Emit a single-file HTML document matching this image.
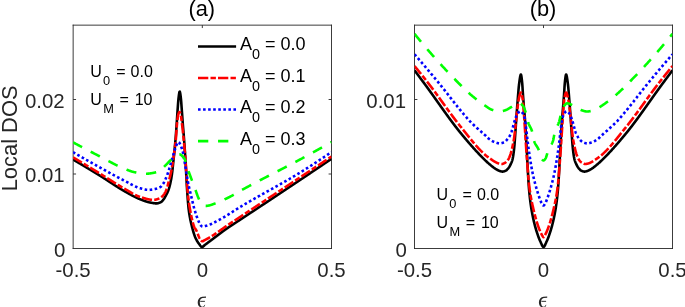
<!DOCTYPE html>
<html><head><meta charset="utf-8"><title>Local DOS</title>
<style>html,body{margin:0;padding:0;background:#fff;}body{width:685px;height:307px;overflow:hidden;position:relative;font-family:"Liberation Sans",sans-serif;}</style>
</head><body>
<svg width="685" height="307" viewBox="0 0 685 307" style="position:absolute;left:0;top:0;will-change:transform;font-family:'Liberation Sans',sans-serif">
<rect width="685" height="307" fill="#fff"/>
<defs><clipPath id="ca"><rect x="73.15" y="25.15" width="258.35" height="223.35"/></clipPath><clipPath id="cb"><rect x="414.5" y="25.15" width="258.0" height="223.35"/></clipPath></defs>
<path d="M73.15,24.7 V248.95 M331.5,24.7 V248.95 M72.7,25.15 H331.95 M72.7,248.5 H331.95" stroke="#262626" stroke-width="0.9" fill="none"/>
<path d="M202.325,248.5 v-2.9 M202.325,25.15 v2.9" stroke="#262626" stroke-width="0.9" fill="none"/>
<path d="M73.15,99.5 h2.9 M331.5,99.5 h-2.9" stroke="#262626" stroke-width="0.9" fill="none"/>
<path d="M73.15,174.0 h2.9 M331.5,174.0 h-2.9" stroke="#262626" stroke-width="0.9" fill="none"/>

<path d="M414.5,24.7 V248.95 M672.5,24.7 V248.95 M414.05,25.15 H672.95 M414.05,248.5 H672.95" stroke="#262626" stroke-width="0.9" fill="none"/>
<path d="M543.5,248.5 v-2.9 M543.5,25.15 v2.9" stroke="#262626" stroke-width="0.9" fill="none"/>
<path d="M414.5,99.5 h2.9 M672.5,99.5 h-2.9" stroke="#262626" stroke-width="0.9" fill="none"/>

<g clip-path="url(#ca)" fill="none" stroke-width="2.6" stroke-linejoin="round"><path d="M73.00,159.50 L73.25,159.65 L73.50,159.79 L73.75,159.94 L74.00,160.08 L74.25,160.23 L74.50,160.38 L74.75,160.52 L75.00,160.67 L75.25,160.82 L75.50,160.96 L75.75,161.11 L76.00,161.26 L76.25,161.40 L76.50,161.55 L76.75,161.70 L77.00,161.84 L77.25,161.99 L77.50,162.14 L77.75,162.29 L78.00,162.43 L78.25,162.58 L78.50,162.73 L78.75,162.88 L79.00,163.02 L79.25,163.17 L79.50,163.32 L79.75,163.47 L80.00,163.61 L80.25,163.76 L80.50,163.91 L80.75,164.06 L81.00,164.21 L81.25,164.36 L81.50,164.50 L81.75,164.65 L82.00,164.80 L82.25,164.95 L82.50,165.10 L82.75,165.25 L83.00,165.40 L83.25,165.55 L83.50,165.70 L83.75,165.84 L84.00,165.99 L84.25,166.14 L84.50,166.29 L84.75,166.44 L85.00,166.59 L85.25,166.74 L85.50,166.89 L85.75,167.04 L86.00,167.19 L86.25,167.34 L86.50,167.49 L86.75,167.64 L87.00,167.79 L87.25,167.94 L87.50,168.09 L87.75,168.24 L88.00,168.39 L88.25,168.54 L88.50,168.69 L88.75,168.84 L89.00,168.99 L89.25,169.15 L89.50,169.30 L89.75,169.45 L90.00,169.60 L90.25,169.75 L90.50,169.90 L90.75,170.05 L91.00,170.20 L91.25,170.36 L91.50,170.51 L91.75,170.66 L92.00,170.81 L92.25,170.96 L92.50,171.11 L92.75,171.27 L93.00,171.42 L93.25,171.57 L93.50,171.72 L93.75,171.87 L94.00,172.03 L94.25,172.18 L94.50,172.33 L94.75,172.48 L95.00,172.64 L95.25,172.79 L95.50,172.94 L95.75,173.09 L96.00,173.25 L96.25,173.40 L96.50,173.55 L96.75,173.70 L97.00,173.86 L97.25,174.01 L97.50,174.16 L97.75,174.32 L98.00,174.47 L98.25,174.62 L98.50,174.78 L98.75,174.93 L99.00,175.08 L99.25,175.24 L99.50,175.39 L99.75,175.55 L100.00,175.70 L100.25,175.85 L100.50,176.01 L100.75,176.16 L101.00,176.32 L101.25,176.48 L101.50,176.63 L101.75,176.79 L102.00,176.95 L102.25,177.10 L102.50,177.26 L102.75,177.42 L103.00,177.58 L103.25,177.74 L103.50,177.90 L103.75,178.06 L104.00,178.22 L104.25,178.38 L104.50,178.54 L104.75,178.70 L105.00,178.86 L105.25,179.03 L105.50,179.19 L105.75,179.35 L106.00,179.51 L106.25,179.68 L106.50,179.84 L106.75,180.00 L107.00,180.16 L107.25,180.33 L107.50,180.49 L107.75,180.65 L108.00,180.82 L108.25,180.98 L108.50,181.15 L108.75,181.31 L109.00,181.47 L109.25,181.64 L109.50,181.80 L109.75,181.97 L110.00,182.13 L110.25,182.29 L110.50,182.46 L110.75,182.62 L111.00,182.79 L111.25,182.95 L111.50,183.11 L111.75,183.28 L112.00,183.44 L112.25,183.61 L112.50,183.77 L112.75,183.93 L113.00,184.10 L113.25,184.26 L113.50,184.42 L113.75,184.58 L114.00,184.75 L114.25,184.91 L114.50,185.07 L114.75,185.23 L115.00,185.39 L115.25,185.56 L115.50,185.72 L115.75,185.88 L116.00,186.04 L116.25,186.20 L116.50,186.36 L116.75,186.52 L117.00,186.68 L117.25,186.83 L117.50,186.99 L117.75,187.15 L118.00,187.31 L118.25,187.47 L118.50,187.62 L118.75,187.78 L119.00,187.93 L119.25,188.09 L119.50,188.24 L119.75,188.40 L120.00,188.55 L120.25,188.71 L120.50,188.86 L120.75,189.01 L121.00,189.16 L121.25,189.31 L121.50,189.46 L121.75,189.61 L122.00,189.76 L122.25,189.91 L122.50,190.06 L122.75,190.21 L123.00,190.35 L123.25,190.50 L123.50,190.64 L123.75,190.79 L124.00,190.93 L124.25,191.08 L124.50,191.22 L124.75,191.36 L125.00,191.50 L125.25,191.64 L125.50,191.78 L125.75,191.92 L126.00,192.06 L126.25,192.20 L126.50,192.34 L126.75,192.49 L127.00,192.63 L127.25,192.77 L127.50,192.91 L127.75,193.05 L128.00,193.19 L128.25,193.33 L128.50,193.47 L128.75,193.61 L129.00,193.75 L129.25,193.89 L129.50,194.03 L129.75,194.17 L130.00,194.30 L130.25,194.44 L130.50,194.58 L130.75,194.72 L131.00,194.85 L131.25,194.99 L131.50,195.12 L131.75,195.26 L132.00,195.39 L132.25,195.53 L132.50,195.66 L132.75,195.79 L133.00,195.92 L133.25,196.06 L133.50,196.19 L133.75,196.31 L134.00,196.44 L134.25,196.57 L134.50,196.70 L134.75,196.82 L135.00,196.95 L135.25,197.07 L135.50,197.19 L135.75,197.32 L136.00,197.44 L136.25,197.56 L136.50,197.67 L136.75,197.79 L137.00,197.91 L137.25,198.02 L137.50,198.14 L137.75,198.25 L138.00,198.36 L138.25,198.47 L138.50,198.58 L138.75,198.69 L139.00,198.79 L139.25,198.90 L139.50,199.00 L139.75,199.10 L140.00,199.20 L140.25,199.30 L140.50,199.40 L140.75,199.50 L141.00,199.60 L141.25,199.69 L141.50,199.79 L141.75,199.89 L142.00,199.99 L142.25,200.09 L142.50,200.18 L142.75,200.28 L143.00,200.38 L143.25,200.47 L143.50,200.56 L143.75,200.66 L144.00,200.75 L144.25,200.84 L144.50,200.93 L144.75,201.02 L145.00,201.11 L145.25,201.19 L145.50,201.28 L145.75,201.36 L146.00,201.45 L146.25,201.53 L146.50,201.61 L146.75,201.68 L147.00,201.76 L147.25,201.83 L147.50,201.90 L147.75,201.97 L148.00,202.04 L148.25,202.11 L148.50,202.17 L148.75,202.23 L149.00,202.29 L149.25,202.35 L149.50,202.40 L149.75,202.45 L150.00,202.50 L150.25,202.55 L150.50,202.60 L150.75,202.64 L151.00,202.69 L151.25,202.74 L151.50,202.79 L151.75,202.84 L152.00,202.88 L152.25,202.93 L152.50,202.98 L152.75,203.02 L153.00,203.06 L153.25,203.10 L153.50,203.14 L153.75,203.18 L154.00,203.22 L154.25,203.25 L154.50,203.28 L154.75,203.30 L155.00,203.33 L155.25,203.35 L155.50,203.37 L155.75,203.38 L156.00,203.39 L156.25,203.40 L156.50,203.40 L156.75,203.39 L157.00,203.38 L157.25,203.35 L157.50,203.31 L157.75,203.26 L158.00,203.20 L158.25,203.14 L158.50,203.06 L158.75,202.98 L159.00,202.89 L159.25,202.80 L159.50,202.70 L159.75,202.59 L160.00,202.48 L160.25,202.36 L160.50,202.25 L160.75,202.12 L161.00,202.00 L161.25,201.86 L161.50,201.68 L161.75,201.48 L162.00,201.25 L162.25,200.99 L162.50,200.72 L162.75,200.43 L163.00,200.12 L163.25,199.80 L163.50,199.47 L163.75,199.14 L164.00,198.80 L164.25,198.44 L164.50,198.06 L164.75,197.64 L165.00,197.20 L165.25,196.74 L165.50,196.26 L165.75,195.78 L166.00,195.29 L166.25,194.79 L166.50,194.30 L166.75,193.82 L167.00,193.33 L167.25,192.84 L167.50,192.32 L167.75,191.79 L168.00,191.21 L168.25,190.59 L168.50,189.93 L168.75,189.20 L169.00,188.41 L169.25,187.57 L169.50,186.67 L169.75,185.72 L170.00,184.72 L170.25,183.66 L170.50,182.55 L170.75,181.35 L171.00,180.05 L171.25,178.65 L171.50,177.14 L171.75,175.52 L172.00,173.78 L172.25,171.80 L172.50,169.62 L172.75,167.28 L173.00,164.87 L173.25,162.44 L173.50,160.05 L173.75,157.68 L174.00,155.30 L174.25,152.90 L174.50,150.44 L174.75,147.93 L175.00,145.32 L175.25,142.61 L175.50,139.77 L175.75,136.76 L176.00,133.47 L176.25,130.00 L176.50,126.43 L176.75,122.80 L177.00,118.98 L177.25,115.12 L177.50,111.40 L177.75,107.90 L178.00,104.34 L178.25,101.06 L178.50,98.42 L178.75,96.40 L179.00,94.47 L179.25,92.86 L179.50,91.79 L179.75,91.52 L180.00,92.14 L180.25,93.45 L180.50,95.22 L180.75,97.20 L181.00,99.38 L181.25,102.37 L181.50,105.84 L181.75,109.34 L182.00,112.68 L182.25,116.13 L182.50,119.60 L182.75,123.02 L183.00,126.28 L183.25,129.35 L183.50,132.34 L183.75,135.38 L184.00,138.60 L184.25,142.00 L184.50,145.52 L184.75,149.15 L185.00,152.91 L185.25,156.79 L185.50,160.82 L185.75,165.23 L186.00,169.97 L186.25,174.86 L186.50,179.70 L186.75,184.31 L187.00,188.49 L187.25,192.18 L187.50,195.74 L187.75,199.16 L188.00,202.36 L188.25,205.26 L188.50,207.79 L188.75,209.89 L189.00,211.73 L189.25,213.44 L189.50,215.03 L189.75,216.51 L190.00,217.89 L190.25,219.19 L190.50,220.41 L190.75,221.57 L191.00,222.67 L191.25,223.74 L191.50,224.79 L191.75,225.81 L192.00,226.82 L192.25,227.80 L192.50,228.76 L192.75,229.69 L193.00,230.59 L193.25,231.47 L193.50,232.31 L193.75,233.13 L194.00,233.92 L194.25,234.67 L194.50,235.39 L194.75,236.07 L195.00,236.72 L195.25,237.33 L195.50,237.90 L195.75,238.44 L196.00,238.96 L196.25,239.46 L196.50,239.93 L196.75,240.39 L197.00,240.83 L197.25,241.25 L197.50,241.65 L197.75,242.04 L198.00,242.42 L198.25,242.78 L198.50,243.13 L198.75,243.47 L199.00,243.80 L199.25,244.14 L199.50,244.49 L199.75,244.85 L200.00,245.21 L200.25,245.56 L200.50,245.89 L200.75,246.19 L201.00,246.46 L201.25,246.68 L201.50,246.85 L201.75,246.96 L202.00,247.00 L202.25,246.97 L202.50,246.89 L202.75,246.76 L203.00,246.59 L203.25,246.40 L203.50,246.18 L203.75,245.94 L204.00,245.70 L204.25,245.46 L204.50,245.22 L204.75,245.00 L205.00,244.80 L205.25,244.62 L205.50,244.43 L205.75,244.24 L206.00,244.06 L206.25,243.87 L206.50,243.69 L206.75,243.50 L207.00,243.32 L207.25,243.13 L207.50,242.94 L207.75,242.76 L208.00,242.57 L208.25,242.38 L208.50,242.20 L208.75,242.01 L209.00,241.82 L209.25,241.64 L209.50,241.45 L209.75,241.26 L210.00,241.08 L210.25,240.89 L210.50,240.70 L210.75,240.51 L211.00,240.33 L211.25,240.14 L211.50,239.95 L211.75,239.76 L212.00,239.58 L212.25,239.39 L212.50,239.20 L212.75,239.01 L213.00,238.83 L213.25,238.64 L213.50,238.45 L213.75,238.26 L214.00,238.07 L214.25,237.89 L214.50,237.70 L214.75,237.51 L215.00,237.32 L215.25,237.13 L215.50,236.94 L215.75,236.75 L216.00,236.56 L216.25,236.37 L216.50,236.18 L216.75,235.99 L217.00,235.80 L217.25,235.61 L217.50,235.41 L217.75,235.22 L218.00,235.03 L218.25,234.84 L218.50,234.65 L218.75,234.46 L219.00,234.27 L219.25,234.07 L219.50,233.88 L219.75,233.69 L220.00,233.50 L220.25,233.31 L220.50,233.12 L220.75,232.93 L221.00,232.74 L221.25,232.55 L221.50,232.37 L221.75,232.18 L222.00,231.99 L222.25,231.80 L222.50,231.62 L222.75,231.43 L223.00,231.25 L223.25,231.06 L223.50,230.88 L223.75,230.70 L224.00,230.52 L224.25,230.34 L224.50,230.16 L224.75,229.98 L225.00,229.80 L225.25,229.62 L225.50,229.45 L225.75,229.27 L226.00,229.10 L226.25,228.92 L226.50,228.75 L226.75,228.57 L227.00,228.40 L227.25,228.23 L227.50,228.06 L227.75,227.89 L228.00,227.72 L228.25,227.55 L228.50,227.38 L228.75,227.21 L229.00,227.04 L229.25,226.87 L229.50,226.70 L229.75,226.54 L230.00,226.37 L230.25,226.20 L230.50,226.04 L230.75,225.87 L231.00,225.70 L231.25,225.54 L231.50,225.37 L231.75,225.21 L232.00,225.04 L232.25,224.88 L232.50,224.71 L232.75,224.55 L233.00,224.39 L233.25,224.22 L233.50,224.06 L233.75,223.90 L234.00,223.73 L234.25,223.57 L234.50,223.41 L234.75,223.24 L235.00,223.08 L235.25,222.92 L235.50,222.75 L235.75,222.59 L236.00,222.43 L236.25,222.26 L236.50,222.10 L236.75,221.94 L237.00,221.77 L237.25,221.61 L237.50,221.45 L237.75,221.28 L238.00,221.12 L238.25,220.95 L238.50,220.79 L238.75,220.63 L239.00,220.46 L239.25,220.30 L239.50,220.13 L239.75,219.97 L240.00,219.80 L240.25,219.63 L240.50,219.47 L240.75,219.30 L241.00,219.14 L241.25,218.97 L241.50,218.81 L241.75,218.64 L242.00,218.47 L242.25,218.31 L242.50,218.14 L242.75,217.98 L243.00,217.81 L243.25,217.65 L243.50,217.48 L243.75,217.32 L244.00,217.15 L244.25,216.99 L244.50,216.82 L244.75,216.66 L245.00,216.49 L245.25,216.33 L245.50,216.16 L245.75,216.00 L246.00,215.83 L246.25,215.67 L246.50,215.50 L246.75,215.34 L247.00,215.17 L247.25,215.01 L247.50,214.84 L247.75,214.68 L248.00,214.51 L248.25,214.35 L248.50,214.18 L248.75,214.02 L249.00,213.85 L249.25,213.69 L249.50,213.52 L249.75,213.36 L250.00,213.19 L250.25,213.03 L250.50,212.86 L250.75,212.70 L251.00,212.53 L251.25,212.37 L251.50,212.21 L251.75,212.04 L252.00,211.88 L252.25,211.71 L252.50,211.55 L252.75,211.38 L253.00,211.22 L253.25,211.05 L253.50,210.89 L253.75,210.72 L254.00,210.56 L254.25,210.39 L254.50,210.23 L254.75,210.07 L255.00,209.90 L255.25,209.74 L255.50,209.57 L255.75,209.41 L256.00,209.24 L256.25,209.08 L256.50,208.91 L256.75,208.75 L257.00,208.58 L257.25,208.42 L257.50,208.25 L257.75,208.09 L258.00,207.92 L258.25,207.76 L258.50,207.60 L258.75,207.43 L259.00,207.27 L259.25,207.10 L259.50,206.94 L259.75,206.77 L260.00,206.61 L260.25,206.44 L260.50,206.28 L260.75,206.11 L261.00,205.95 L261.25,205.78 L261.50,205.62 L261.75,205.45 L262.00,205.29 L262.25,205.12 L262.50,204.95 L262.75,204.79 L263.00,204.62 L263.25,204.46 L263.50,204.29 L263.75,204.13 L264.00,203.96 L264.25,203.80 L264.50,203.63 L264.75,203.47 L265.00,203.30 L265.25,203.13 L265.50,202.97 L265.75,202.80 L266.00,202.64 L266.25,202.47 L266.50,202.31 L266.75,202.14 L267.00,201.97 L267.25,201.81 L267.50,201.64 L267.75,201.48 L268.00,201.31 L268.25,201.15 L268.50,200.98 L268.75,200.81 L269.00,200.65 L269.25,200.48 L269.50,200.32 L269.75,200.15 L270.00,199.98 L270.25,199.82 L270.50,199.65 L270.75,199.49 L271.00,199.32 L271.25,199.16 L271.50,198.99 L271.75,198.82 L272.00,198.66 L272.25,198.49 L272.50,198.33 L272.75,198.16 L273.00,197.99 L273.25,197.83 L273.50,197.66 L273.75,197.50 L274.00,197.33 L274.25,197.16 L274.50,197.00 L274.75,196.83 L275.00,196.67 L275.25,196.50 L275.50,196.33 L275.75,196.17 L276.00,196.00 L276.25,195.84 L276.50,195.67 L276.75,195.50 L277.00,195.34 L277.25,195.17 L277.50,195.00 L277.75,194.84 L278.00,194.67 L278.25,194.51 L278.50,194.34 L278.75,194.17 L279.00,194.01 L279.25,193.84 L279.50,193.68 L279.75,193.51 L280.00,193.34 L280.25,193.18 L280.50,193.01 L280.75,192.84 L281.00,192.68 L281.25,192.51 L281.50,192.34 L281.75,192.18 L282.00,192.01 L282.25,191.85 L282.50,191.68 L282.75,191.51 L283.00,191.35 L283.25,191.18 L283.50,191.01 L283.75,190.85 L284.00,190.68 L284.25,190.51 L284.50,190.35 L284.75,190.18 L285.00,190.01 L285.25,189.85 L285.50,189.68 L285.75,189.52 L286.00,189.35 L286.25,189.18 L286.50,189.02 L286.75,188.85 L287.00,188.68 L287.25,188.52 L287.50,188.35 L287.75,188.18 L288.00,188.02 L288.25,187.85 L288.50,187.68 L288.75,187.52 L289.00,187.35 L289.25,187.18 L289.50,187.02 L289.75,186.85 L290.00,186.68 L290.25,186.52 L290.50,186.35 L290.75,186.18 L291.00,186.01 L291.25,185.85 L291.50,185.68 L291.75,185.51 L292.00,185.35 L292.25,185.18 L292.50,185.01 L292.75,184.85 L293.00,184.68 L293.25,184.51 L293.50,184.35 L293.75,184.18 L294.00,184.01 L294.25,183.85 L294.50,183.68 L294.75,183.51 L295.00,183.34 L295.25,183.18 L295.50,183.01 L295.75,182.84 L296.00,182.68 L296.25,182.51 L296.50,182.34 L296.75,182.17 L297.00,182.01 L297.25,181.84 L297.50,181.67 L297.75,181.51 L298.00,181.34 L298.25,181.17 L298.50,181.00 L298.75,180.84 L299.00,180.67 L299.25,180.50 L299.50,180.33 L299.75,180.17 L300.00,180.00 L300.25,179.83 L300.50,179.67 L300.75,179.50 L301.00,179.33 L301.25,179.16 L301.50,179.00 L301.75,178.83 L302.00,178.66 L302.25,178.49 L302.50,178.33 L302.75,178.16 L303.00,177.99 L303.25,177.82 L303.50,177.66 L303.75,177.49 L304.00,177.32 L304.25,177.15 L304.50,176.99 L304.75,176.82 L305.00,176.65 L305.25,176.48 L305.50,176.31 L305.75,176.15 L306.00,175.98 L306.25,175.81 L306.50,175.64 L306.75,175.48 L307.00,175.31 L307.25,175.14 L307.50,174.97 L307.75,174.80 L308.00,174.64 L308.25,174.47 L308.50,174.30 L308.75,174.13 L309.00,173.97 L309.25,173.80 L309.50,173.63 L309.75,173.46 L310.00,173.29 L310.25,173.13 L310.50,172.96 L310.75,172.79 L311.00,172.62 L311.25,172.45 L311.50,172.29 L311.75,172.12 L312.00,171.95 L312.25,171.78 L312.50,171.61 L312.75,171.45 L313.00,171.28 L313.25,171.11 L313.50,170.94 L313.75,170.77 L314.00,170.61 L314.25,170.44 L314.50,170.27 L314.75,170.10 L315.00,169.93 L315.25,169.76 L315.50,169.60 L315.75,169.43 L316.00,169.26 L316.25,169.09 L316.50,168.92 L316.75,168.75 L317.00,168.59 L317.25,168.42 L317.50,168.25 L317.75,168.08 L318.00,167.91 L318.25,167.74 L318.50,167.58 L318.75,167.41 L319.00,167.24 L319.25,167.07 L319.50,166.90 L319.75,166.73 L320.00,166.57 L320.25,166.40 L320.50,166.23 L320.75,166.06 L321.00,165.89 L321.25,165.72 L321.50,165.55 L321.75,165.39 L322.00,165.22 L322.25,165.05 L322.50,164.88 L322.75,164.71 L323.00,164.54 L323.25,164.37 L323.50,164.20 L323.75,164.04 L324.00,163.87 L324.25,163.70 L324.50,163.53 L324.75,163.36 L325.00,163.19 L325.25,163.02 L325.50,162.86 L325.75,162.69 L326.00,162.52 L326.25,162.35 L326.50,162.18 L326.75,162.01 L327.00,161.84 L327.25,161.67 L327.50,161.50 L327.75,161.34 L328.00,161.17 L328.25,161.00 L328.50,160.83 L328.75,160.66 L329.00,160.49 L329.25,160.32 L329.50,160.15 L329.75,159.98 L330.00,159.81 L330.25,159.65 L330.50,159.48 L330.75,159.31 L331.00,159.14 L331.25,158.97 L331.50,158.80" stroke="#000"/><path d="M73.00,157.30 L73.25,157.45 L73.50,157.60 L73.75,157.75 L74.00,157.90 L74.25,158.05 L74.50,158.20 L74.75,158.35 L75.00,158.50 L75.25,158.65 L75.50,158.79 L75.75,158.94 L76.00,159.09 L76.25,159.24 L76.50,159.39 L76.75,159.54 L77.00,159.69 L77.25,159.84 L77.50,159.99 L77.75,160.14 L78.00,160.29 L78.25,160.44 L78.50,160.59 L78.75,160.74 L79.00,160.89 L79.25,161.04 L79.50,161.19 L79.75,161.34 L80.00,161.49 L80.25,161.64 L80.50,161.79 L80.75,161.94 L81.00,162.09 L81.25,162.24 L81.50,162.39 L81.75,162.55 L82.00,162.70 L82.25,162.85 L82.50,163.00 L82.75,163.15 L83.00,163.30 L83.25,163.45 L83.50,163.60 L83.75,163.75 L84.00,163.90 L84.25,164.05 L84.50,164.20 L84.75,164.35 L85.00,164.50 L85.25,164.65 L85.50,164.80 L85.75,164.95 L86.00,165.11 L86.25,165.26 L86.50,165.41 L86.75,165.56 L87.00,165.71 L87.25,165.86 L87.50,166.01 L87.75,166.16 L88.00,166.31 L88.25,166.46 L88.50,166.62 L88.75,166.77 L89.00,166.92 L89.25,167.07 L89.50,167.22 L89.75,167.37 L90.00,167.52 L90.25,167.67 L90.50,167.83 L90.75,167.98 L91.00,168.13 L91.25,168.28 L91.50,168.43 L91.75,168.58 L92.00,168.74 L92.25,168.89 L92.50,169.04 L92.75,169.19 L93.00,169.34 L93.25,169.49 L93.50,169.65 L93.75,169.80 L94.00,169.95 L94.25,170.10 L94.50,170.25 L94.75,170.40 L95.00,170.56 L95.25,170.71 L95.50,170.86 L95.75,171.01 L96.00,171.16 L96.25,171.32 L96.50,171.47 L96.75,171.62 L97.00,171.77 L97.25,171.92 L97.50,172.08 L97.75,172.23 L98.00,172.38 L98.25,172.53 L98.50,172.69 L98.75,172.84 L99.00,172.99 L99.25,173.14 L99.50,173.30 L99.75,173.45 L100.00,173.60 L100.25,173.75 L100.50,173.91 L100.75,174.06 L101.00,174.21 L101.25,174.37 L101.50,174.52 L101.75,174.67 L102.00,174.83 L102.25,174.98 L102.50,175.14 L102.75,175.29 L103.00,175.45 L103.25,175.61 L103.50,175.76 L103.75,175.92 L104.00,176.07 L104.25,176.23 L104.50,176.39 L104.75,176.54 L105.00,176.70 L105.25,176.86 L105.50,177.02 L105.75,177.17 L106.00,177.33 L106.25,177.49 L106.50,177.65 L106.75,177.80 L107.00,177.96 L107.25,178.12 L107.50,178.28 L107.75,178.44 L108.00,178.60 L108.25,178.75 L108.50,178.91 L108.75,179.07 L109.00,179.23 L109.25,179.39 L109.50,179.55 L109.75,179.70 L110.00,179.86 L110.25,180.02 L110.50,180.18 L110.75,180.34 L111.00,180.50 L111.25,180.65 L111.50,180.81 L111.75,180.97 L112.00,181.13 L112.25,181.29 L112.50,181.44 L112.75,181.60 L113.00,181.76 L113.25,181.92 L113.50,182.07 L113.75,182.23 L114.00,182.39 L114.25,182.54 L114.50,182.70 L114.75,182.86 L115.00,183.01 L115.25,183.17 L115.50,183.32 L115.75,183.48 L116.00,183.63 L116.25,183.79 L116.50,183.94 L116.75,184.10 L117.00,184.25 L117.25,184.41 L117.50,184.56 L117.75,184.71 L118.00,184.87 L118.25,185.02 L118.50,185.17 L118.75,185.33 L119.00,185.48 L119.25,185.63 L119.50,185.78 L119.75,185.93 L120.00,186.08 L120.25,186.23 L120.50,186.38 L120.75,186.53 L121.00,186.68 L121.25,186.83 L121.50,186.98 L121.75,187.12 L122.00,187.27 L122.25,187.42 L122.50,187.56 L122.75,187.71 L123.00,187.85 L123.25,188.00 L123.50,188.14 L123.75,188.29 L124.00,188.43 L124.25,188.57 L124.50,188.72 L124.75,188.86 L125.00,189.00 L125.25,189.14 L125.50,189.28 L125.75,189.43 L126.00,189.57 L126.25,189.72 L126.50,189.86 L126.75,190.01 L127.00,190.16 L127.25,190.31 L127.50,190.46 L127.75,190.61 L128.00,190.76 L128.25,190.91 L128.50,191.06 L128.75,191.21 L129.00,191.36 L129.25,191.51 L129.50,191.66 L129.75,191.81 L130.00,191.96 L130.25,192.11 L130.50,192.26 L130.75,192.40 L131.00,192.55 L131.25,192.70 L131.50,192.85 L131.75,192.99 L132.00,193.14 L132.25,193.28 L132.50,193.43 L132.75,193.57 L133.00,193.71 L133.25,193.85 L133.50,193.99 L133.75,194.13 L134.00,194.26 L134.25,194.40 L134.50,194.53 L134.75,194.66 L135.00,194.79 L135.25,194.92 L135.50,195.04 L135.75,195.17 L136.00,195.29 L136.25,195.41 L136.50,195.53 L136.75,195.64 L137.00,195.75 L137.25,195.86 L137.50,195.97 L137.75,196.08 L138.00,196.18 L138.25,196.28 L138.50,196.38 L138.75,196.47 L139.00,196.56 L139.25,196.65 L139.50,196.74 L139.75,196.82 L140.00,196.90 L140.25,196.98 L140.50,197.06 L140.75,197.13 L141.00,197.21 L141.25,197.29 L141.50,197.37 L141.75,197.45 L142.00,197.53 L142.25,197.61 L142.50,197.69 L142.75,197.76 L143.00,197.84 L143.25,197.92 L143.50,198.00 L143.75,198.07 L144.00,198.15 L144.25,198.22 L144.50,198.30 L144.75,198.37 L145.00,198.44 L145.25,198.52 L145.50,198.59 L145.75,198.66 L146.00,198.73 L146.25,198.79 L146.50,198.86 L146.75,198.92 L147.00,198.99 L147.25,199.05 L147.50,199.11 L147.75,199.17 L148.00,199.22 L148.25,199.28 L148.50,199.33 L148.75,199.38 L149.00,199.43 L149.25,199.48 L149.50,199.52 L149.75,199.57 L150.00,199.61 L150.25,199.65 L150.50,199.68 L150.75,199.72 L151.00,199.75 L151.25,199.77 L151.50,199.80 L151.75,199.82 L152.00,199.84 L152.25,199.86 L152.50,199.87 L152.75,199.89 L153.00,199.89 L153.25,199.90 L153.50,199.90 L153.75,199.90 L154.00,199.88 L154.25,199.87 L154.50,199.84 L154.75,199.81 L155.00,199.77 L155.25,199.72 L155.50,199.67 L155.75,199.61 L156.00,199.55 L156.25,199.48 L156.50,199.41 L156.75,199.34 L157.00,199.26 L157.25,199.17 L157.50,199.09 L157.75,199.00 L158.00,198.90 L158.25,198.81 L158.50,198.71 L158.75,198.61 L159.00,198.51 L159.25,198.40 L159.50,198.30 L159.75,198.19 L160.00,198.06 L160.25,197.92 L160.50,197.77 L160.75,197.60 L161.00,197.42 L161.25,197.22 L161.50,197.02 L161.75,196.80 L162.00,196.57 L162.25,196.33 L162.50,196.09 L162.75,195.83 L163.00,195.56 L163.25,195.28 L163.50,195.00 L163.75,194.70 L164.00,194.36 L164.25,194.00 L164.50,193.61 L164.75,193.19 L165.00,192.75 L165.25,192.28 L165.50,191.78 L165.75,191.25 L166.00,190.70 L166.25,190.12 L166.50,189.49 L166.75,188.78 L167.00,188.00 L167.25,187.15 L167.50,186.25 L167.75,185.31 L168.00,184.34 L168.25,183.35 L168.50,182.36 L168.75,181.37 L169.00,180.40 L169.25,179.44 L169.50,178.49 L169.75,177.53 L170.00,176.56 L170.25,175.56 L170.50,174.54 L170.75,173.48 L171.00,172.38 L171.25,171.22 L171.50,170.00 L171.75,168.71 L172.00,167.34 L172.25,165.90 L172.50,164.39 L172.75,162.82 L173.00,161.20 L173.25,159.52 L173.50,157.81 L173.75,156.06 L174.00,154.29 L174.25,152.50 L174.50,150.67 L174.75,148.78 L175.00,146.81 L175.25,144.73 L175.50,142.51 L175.75,140.12 L176.00,137.48 L176.25,134.14 L176.50,130.43 L176.75,126.88 L177.00,124.00 L177.25,121.66 L177.50,119.45 L177.75,117.48 L178.00,115.85 L178.25,114.67 L178.50,113.87 L178.75,113.14 L179.00,112.55 L179.25,112.15 L179.50,112.00 L179.75,112.15 L180.00,112.55 L180.25,113.14 L180.50,113.87 L180.75,114.67 L181.00,115.93 L181.25,117.67 L181.50,119.72 L181.75,121.89 L182.00,124.00 L182.25,126.07 L182.50,128.22 L182.75,130.45 L183.00,132.76 L183.25,135.15 L183.50,137.60 L183.75,140.12 L184.00,142.71 L184.25,145.38 L184.50,148.12 L184.75,150.95 L185.00,153.87 L185.25,156.89 L185.50,160.00 L185.75,163.38 L186.00,167.10 L186.25,171.04 L186.50,175.08 L186.75,179.10 L187.00,182.98 L187.25,186.58 L187.50,189.79 L187.75,192.50 L188.00,194.92 L188.25,197.19 L188.50,199.32 L188.75,201.30 L189.00,203.14 L189.25,204.85 L189.50,206.43 L189.75,207.88 L190.00,209.28 L190.25,210.65 L190.50,211.98 L190.75,213.29 L191.00,214.56 L191.25,215.80 L191.50,217.00 L191.75,218.15 L192.00,219.26 L192.25,220.33 L192.50,221.35 L192.75,222.32 L193.00,223.24 L193.25,224.10 L193.50,224.90 L193.75,225.65 L194.00,226.33 L194.25,226.95 L194.50,227.50 L194.75,227.97 L195.00,228.36 L195.25,228.70 L195.50,229.04 L195.75,229.39 L196.00,229.80 L196.25,230.27 L196.50,230.80 L196.75,231.37 L197.00,231.97 L197.25,232.60 L197.50,233.24 L197.75,233.90 L198.00,234.55 L198.25,235.20 L198.50,235.84 L198.75,236.44 L199.00,237.02 L199.25,237.56 L199.50,238.04 L199.75,238.47 L200.00,238.84 L200.25,239.21 L200.50,239.59 L200.75,239.95 L201.00,240.30 L201.25,240.61 L201.50,240.88 L201.75,241.09 L202.00,241.24 L202.25,241.30 L202.50,241.28 L202.75,241.22 L203.00,241.11 L203.25,240.98 L203.50,240.83 L203.75,240.66 L204.00,240.50 L204.25,240.34 L204.50,240.20 L204.75,240.07 L205.00,239.94 L205.25,239.81 L205.50,239.69 L205.75,239.56 L206.00,239.43 L206.25,239.30 L206.50,239.17 L206.75,239.04 L207.00,238.90 L207.25,238.77 L207.50,238.64 L207.75,238.50 L208.00,238.36 L208.25,238.23 L208.50,238.09 L208.75,237.94 L209.00,237.80 L209.25,237.65 L209.50,237.51 L209.75,237.36 L210.00,237.21 L210.25,237.06 L210.50,236.90 L210.75,236.75 L211.00,236.59 L211.25,236.44 L211.50,236.28 L211.75,236.12 L212.00,235.96 L212.25,235.80 L212.50,235.64 L212.75,235.47 L213.00,235.31 L213.25,235.15 L213.50,234.98 L213.75,234.82 L214.00,234.65 L214.25,234.48 L214.50,234.32 L214.75,234.15 L215.00,233.98 L215.25,233.81 L215.50,233.64 L215.75,233.48 L216.00,233.31 L216.25,233.14 L216.50,232.97 L216.75,232.80 L217.00,232.63 L217.25,232.46 L217.50,232.29 L217.75,232.12 L218.00,231.95 L218.25,231.78 L218.50,231.60 L218.75,231.43 L219.00,231.25 L219.25,231.07 L219.50,230.90 L219.75,230.72 L220.00,230.54 L220.25,230.36 L220.50,230.19 L220.75,230.01 L221.00,229.83 L221.25,229.65 L221.50,229.47 L221.75,229.29 L222.00,229.11 L222.25,228.93 L222.50,228.75 L222.75,228.58 L223.00,228.40 L223.25,228.22 L223.50,228.05 L223.75,227.87 L224.00,227.69 L224.25,227.52 L224.50,227.35 L224.75,227.17 L225.00,227.00 L225.25,226.83 L225.50,226.66 L225.75,226.49 L226.00,226.32 L226.25,226.15 L226.50,225.98 L226.75,225.81 L227.00,225.64 L227.25,225.47 L227.50,225.30 L227.75,225.13 L228.00,224.96 L228.25,224.79 L228.50,224.62 L228.75,224.46 L229.00,224.29 L229.25,224.12 L229.50,223.95 L229.75,223.79 L230.00,223.62 L230.25,223.45 L230.50,223.29 L230.75,223.12 L231.00,222.95 L231.25,222.79 L231.50,222.62 L231.75,222.45 L232.00,222.29 L232.25,222.12 L232.50,221.96 L232.75,221.79 L233.00,221.63 L233.25,221.46 L233.50,221.30 L233.75,221.13 L234.00,220.96 L234.25,220.80 L234.50,220.63 L234.75,220.47 L235.00,220.30 L235.25,220.14 L235.50,219.97 L235.75,219.81 L236.00,219.64 L236.25,219.48 L236.50,219.31 L236.75,219.15 L237.00,218.98 L237.25,218.82 L237.50,218.65 L237.75,218.49 L238.00,218.32 L238.25,218.16 L238.50,217.99 L238.75,217.83 L239.00,217.66 L239.25,217.50 L239.50,217.33 L239.75,217.17 L240.00,217.00 L240.25,216.83 L240.50,216.67 L240.75,216.50 L241.00,216.34 L241.25,216.17 L241.50,216.01 L241.75,215.84 L242.00,215.67 L242.25,215.51 L242.50,215.34 L242.75,215.18 L243.00,215.01 L243.25,214.85 L243.50,214.68 L243.75,214.52 L244.00,214.35 L244.25,214.18 L244.50,214.02 L244.75,213.85 L245.00,213.69 L245.25,213.52 L245.50,213.36 L245.75,213.19 L246.00,213.03 L246.25,212.86 L246.50,212.70 L246.75,212.53 L247.00,212.37 L247.25,212.20 L247.50,212.04 L247.75,211.87 L248.00,211.71 L248.25,211.54 L248.50,211.38 L248.75,211.21 L249.00,211.05 L249.25,210.88 L249.50,210.72 L249.75,210.55 L250.00,210.39 L250.25,210.22 L250.50,210.06 L250.75,209.89 L251.00,209.73 L251.25,209.56 L251.50,209.40 L251.75,209.23 L252.00,209.07 L252.25,208.90 L252.50,208.74 L252.75,208.57 L253.00,208.41 L253.25,208.24 L253.50,208.08 L253.75,207.91 L254.00,207.75 L254.25,207.59 L254.50,207.42 L254.75,207.26 L255.00,207.09 L255.25,206.93 L255.50,206.76 L255.75,206.60 L256.00,206.43 L256.25,206.27 L256.50,206.10 L256.75,205.94 L257.00,205.77 L257.25,205.61 L257.50,205.44 L257.75,205.28 L258.00,205.11 L258.25,204.95 L258.50,204.79 L258.75,204.62 L259.00,204.46 L259.25,204.29 L259.50,204.13 L259.75,203.96 L260.00,203.80 L260.25,203.63 L260.50,203.47 L260.75,203.30 L261.00,203.14 L261.25,202.97 L261.50,202.81 L261.75,202.64 L262.00,202.48 L262.25,202.31 L262.50,202.15 L262.75,201.98 L263.00,201.82 L263.25,201.65 L263.50,201.49 L263.75,201.32 L264.00,201.16 L264.25,200.99 L264.50,200.83 L264.75,200.66 L265.00,200.50 L265.25,200.34 L265.50,200.17 L265.75,200.01 L266.00,199.84 L266.25,199.68 L266.50,199.51 L266.75,199.35 L267.00,199.18 L267.25,199.02 L267.50,198.85 L267.75,198.69 L268.00,198.52 L268.25,198.36 L268.50,198.19 L268.75,198.03 L269.00,197.86 L269.25,197.70 L269.50,197.53 L269.75,197.37 L270.00,197.20 L270.25,197.04 L270.50,196.87 L270.75,196.71 L271.00,196.54 L271.25,196.38 L271.50,196.21 L271.75,196.05 L272.00,195.88 L272.25,195.72 L272.50,195.55 L272.75,195.39 L273.00,195.22 L273.25,195.06 L273.50,194.89 L273.75,194.73 L274.00,194.56 L274.25,194.40 L274.50,194.23 L274.75,194.07 L275.00,193.90 L275.25,193.74 L275.50,193.57 L275.75,193.41 L276.00,193.24 L276.25,193.08 L276.50,192.91 L276.75,192.75 L277.00,192.58 L277.25,192.42 L277.50,192.26 L277.75,192.09 L278.00,191.93 L278.25,191.76 L278.50,191.60 L278.75,191.43 L279.00,191.27 L279.25,191.10 L279.50,190.94 L279.75,190.77 L280.00,190.61 L280.25,190.44 L280.50,190.28 L280.75,190.11 L281.00,189.95 L281.25,189.78 L281.50,189.62 L281.75,189.45 L282.00,189.29 L282.25,189.12 L282.50,188.96 L282.75,188.79 L283.00,188.63 L283.25,188.46 L283.50,188.30 L283.75,188.13 L284.00,187.97 L284.25,187.80 L284.50,187.64 L284.75,187.47 L285.00,187.31 L285.25,187.14 L285.50,186.98 L285.75,186.81 L286.00,186.65 L286.25,186.48 L286.50,186.32 L286.75,186.15 L287.00,185.99 L287.25,185.82 L287.50,185.66 L287.75,185.49 L288.00,185.33 L288.25,185.16 L288.50,185.00 L288.75,184.83 L289.00,184.67 L289.25,184.50 L289.50,184.34 L289.75,184.17 L290.00,184.01 L290.25,183.84 L290.50,183.68 L290.75,183.51 L291.00,183.35 L291.25,183.18 L291.50,183.02 L291.75,182.85 L292.00,182.69 L292.25,182.52 L292.50,182.36 L292.75,182.19 L293.00,182.03 L293.25,181.86 L293.50,181.70 L293.75,181.53 L294.00,181.37 L294.25,181.20 L294.50,181.04 L294.75,180.87 L295.00,180.71 L295.25,180.54 L295.50,180.38 L295.75,180.21 L296.00,180.05 L296.25,179.88 L296.50,179.72 L296.75,179.55 L297.00,179.38 L297.25,179.22 L297.50,179.05 L297.75,178.89 L298.00,178.72 L298.25,178.56 L298.50,178.39 L298.75,178.23 L299.00,178.06 L299.25,177.90 L299.50,177.73 L299.75,177.57 L300.00,177.40 L300.25,177.23 L300.50,177.07 L300.75,176.90 L301.00,176.74 L301.25,176.57 L301.50,176.41 L301.75,176.24 L302.00,176.08 L302.25,175.91 L302.50,175.75 L302.75,175.58 L303.00,175.41 L303.25,175.25 L303.50,175.08 L303.75,174.92 L304.00,174.75 L304.25,174.59 L304.50,174.42 L304.75,174.26 L305.00,174.09 L305.25,173.92 L305.50,173.76 L305.75,173.59 L306.00,173.43 L306.25,173.26 L306.50,173.10 L306.75,172.93 L307.00,172.76 L307.25,172.60 L307.50,172.43 L307.75,172.27 L308.00,172.10 L308.25,171.94 L308.50,171.77 L308.75,171.61 L309.00,171.44 L309.25,171.27 L309.50,171.11 L309.75,170.94 L310.00,170.78 L310.25,170.61 L310.50,170.45 L310.75,170.28 L311.00,170.11 L311.25,169.95 L311.50,169.78 L311.75,169.62 L312.00,169.45 L312.25,169.28 L312.50,169.12 L312.75,168.95 L313.00,168.79 L313.25,168.62 L313.50,168.46 L313.75,168.29 L314.00,168.12 L314.25,167.96 L314.50,167.79 L314.75,167.63 L315.00,167.46 L315.25,167.30 L315.50,167.13 L315.75,166.96 L316.00,166.80 L316.25,166.63 L316.50,166.47 L316.75,166.30 L317.00,166.13 L317.25,165.97 L317.50,165.80 L317.75,165.64 L318.00,165.47 L318.25,165.30 L318.50,165.14 L318.75,164.97 L319.00,164.81 L319.25,164.64 L319.50,164.47 L319.75,164.31 L320.00,164.14 L320.25,163.98 L320.50,163.81 L320.75,163.64 L321.00,163.48 L321.25,163.31 L321.50,163.15 L321.75,162.98 L322.00,162.81 L322.25,162.65 L322.50,162.48 L322.75,162.32 L323.00,162.15 L323.25,161.98 L323.50,161.82 L323.75,161.65 L324.00,161.49 L324.25,161.32 L324.50,161.15 L324.75,160.99 L325.00,160.82 L325.25,160.66 L325.50,160.49 L325.75,160.32 L326.00,160.16 L326.25,159.99 L326.50,159.82 L326.75,159.66 L327.00,159.49 L327.25,159.33 L327.50,159.16 L327.75,158.99 L328.00,158.83 L328.25,158.66 L328.50,158.49 L328.75,158.33 L329.00,158.16 L329.25,158.00 L329.50,157.83 L329.75,157.66 L330.00,157.50 L330.25,157.33 L330.50,157.17 L330.75,157.00 L331.00,156.83 L331.25,156.67 L331.50,156.50" stroke="#ff0000" stroke-dasharray="10.3 2.2 5.4 2.1"/><path d="M73.00,152.10 L73.25,152.25 L73.50,152.39 L73.75,152.54 L74.00,152.69 L74.25,152.83 L74.50,152.98 L74.75,153.12 L75.00,153.27 L75.25,153.42 L75.50,153.56 L75.75,153.71 L76.00,153.85 L76.25,154.00 L76.50,154.14 L76.75,154.29 L77.00,154.44 L77.25,154.58 L77.50,154.73 L77.75,154.87 L78.00,155.02 L78.25,155.16 L78.50,155.31 L78.75,155.45 L79.00,155.60 L79.25,155.74 L79.50,155.89 L79.75,156.03 L80.00,156.17 L80.25,156.32 L80.50,156.46 L80.75,156.61 L81.00,156.75 L81.25,156.90 L81.50,157.04 L81.75,157.18 L82.00,157.33 L82.25,157.47 L82.50,157.62 L82.75,157.76 L83.00,157.90 L83.25,158.05 L83.50,158.19 L83.75,158.33 L84.00,158.48 L84.25,158.62 L84.50,158.76 L84.75,158.91 L85.00,159.05 L85.25,159.19 L85.50,159.34 L85.75,159.48 L86.00,159.62 L86.25,159.76 L86.50,159.91 L86.75,160.05 L87.00,160.19 L87.25,160.33 L87.50,160.48 L87.75,160.62 L88.00,160.76 L88.25,160.90 L88.50,161.04 L88.75,161.19 L89.00,161.33 L89.25,161.47 L89.50,161.61 L89.75,161.75 L90.00,161.90 L90.25,162.04 L90.50,162.18 L90.75,162.32 L91.00,162.46 L91.25,162.60 L91.50,162.74 L91.75,162.88 L92.00,163.03 L92.25,163.17 L92.50,163.31 L92.75,163.45 L93.00,163.59 L93.25,163.73 L93.50,163.87 L93.75,164.01 L94.00,164.15 L94.25,164.29 L94.50,164.43 L94.75,164.57 L95.00,164.71 L95.25,164.85 L95.50,164.99 L95.75,165.13 L96.00,165.27 L96.25,165.41 L96.50,165.55 L96.75,165.69 L97.00,165.83 L97.25,165.97 L97.50,166.11 L97.75,166.25 L98.00,166.39 L98.25,166.53 L98.50,166.67 L98.75,166.81 L99.00,166.94 L99.25,167.08 L99.50,167.22 L99.75,167.36 L100.00,167.50 L100.25,167.64 L100.50,167.78 L100.75,167.92 L101.00,168.05 L101.25,168.19 L101.50,168.33 L101.75,168.47 L102.00,168.61 L102.25,168.75 L102.50,168.89 L102.75,169.03 L103.00,169.16 L103.25,169.30 L103.50,169.44 L103.75,169.58 L104.00,169.72 L104.25,169.86 L104.50,170.00 L104.75,170.14 L105.00,170.27 L105.25,170.41 L105.50,170.55 L105.75,170.69 L106.00,170.83 L106.25,170.97 L106.50,171.10 L106.75,171.24 L107.00,171.38 L107.25,171.52 L107.50,171.66 L107.75,171.80 L108.00,171.93 L108.25,172.07 L108.50,172.21 L108.75,172.35 L109.00,172.48 L109.25,172.62 L109.50,172.76 L109.75,172.90 L110.00,173.03 L110.25,173.17 L110.50,173.31 L110.75,173.45 L111.00,173.58 L111.25,173.72 L111.50,173.86 L111.75,173.99 L112.00,174.13 L112.25,174.27 L112.50,174.40 L112.75,174.54 L113.00,174.67 L113.25,174.81 L113.50,174.95 L113.75,175.08 L114.00,175.22 L114.25,175.35 L114.50,175.49 L114.75,175.62 L115.00,175.76 L115.25,175.89 L115.50,176.03 L115.75,176.16 L116.00,176.30 L116.25,176.43 L116.50,176.56 L116.75,176.70 L117.00,176.83 L117.25,176.97 L117.50,177.10 L117.75,177.23 L118.00,177.36 L118.25,177.50 L118.50,177.63 L118.75,177.76 L119.00,177.89 L119.25,178.03 L119.50,178.16 L119.75,178.29 L120.00,178.42 L120.25,178.55 L120.50,178.68 L120.75,178.81 L121.00,178.94 L121.25,179.07 L121.50,179.20 L121.75,179.33 L122.00,179.46 L122.25,179.59 L122.50,179.72 L122.75,179.85 L123.00,179.98 L123.25,180.11 L123.50,180.24 L123.75,180.36 L124.00,180.49 L124.25,180.62 L124.50,180.75 L124.75,180.87 L125.00,181.00 L125.25,181.13 L125.50,181.26 L125.75,181.38 L126.00,181.52 L126.25,181.65 L126.50,181.78 L126.75,181.91 L127.00,182.05 L127.25,182.18 L127.50,182.32 L127.75,182.45 L128.00,182.59 L128.25,182.73 L128.50,182.86 L128.75,183.00 L129.00,183.14 L129.25,183.28 L129.50,183.41 L129.75,183.55 L130.00,183.69 L130.25,183.83 L130.50,183.96 L130.75,184.10 L131.00,184.24 L131.25,184.37 L131.50,184.51 L131.75,184.64 L132.00,184.77 L132.25,184.91 L132.50,185.04 L132.75,185.17 L133.00,185.30 L133.25,185.43 L133.50,185.56 L133.75,185.68 L134.00,185.81 L134.25,185.93 L134.50,186.05 L134.75,186.17 L135.00,186.29 L135.25,186.41 L135.50,186.52 L135.75,186.64 L136.00,186.75 L136.25,186.86 L136.50,186.96 L136.75,187.07 L137.00,187.17 L137.25,187.27 L137.50,187.37 L137.75,187.47 L138.00,187.56 L138.25,187.65 L138.50,187.74 L138.75,187.82 L139.00,187.90 L139.25,187.98 L139.50,188.06 L139.75,188.13 L140.00,188.20 L140.25,188.27 L140.50,188.34 L140.75,188.41 L141.00,188.48 L141.25,188.55 L141.50,188.62 L141.75,188.69 L142.00,188.76 L142.25,188.83 L142.50,188.89 L142.75,188.96 L143.00,189.03 L143.25,189.09 L143.50,189.16 L143.75,189.22 L144.00,189.28 L144.25,189.34 L144.50,189.40 L144.75,189.45 L145.00,189.50 L145.25,189.55 L145.50,189.60 L145.75,189.65 L146.00,189.69 L146.25,189.72 L146.50,189.76 L146.75,189.79 L147.00,189.82 L147.25,189.84 L147.50,189.86 L147.75,189.88 L148.00,189.89 L148.25,189.90 L148.50,189.90 L148.75,189.90 L149.00,189.89 L149.25,189.88 L149.50,189.87 L149.75,189.85 L150.00,189.83 L150.25,189.81 L150.50,189.78 L150.75,189.76 L151.00,189.72 L151.25,189.69 L151.50,189.66 L151.75,189.62 L152.00,189.58 L152.25,189.54 L152.50,189.49 L152.75,189.45 L153.00,189.40 L153.25,189.35 L153.50,189.30 L153.75,189.25 L154.00,189.20 L154.25,189.15 L154.50,189.10 L154.75,189.05 L155.00,189.00 L155.25,188.95 L155.50,188.89 L155.75,188.83 L156.00,188.77 L156.25,188.70 L156.50,188.63 L156.75,188.56 L157.00,188.48 L157.25,188.40 L157.50,188.32 L157.75,188.23 L158.00,188.13 L158.25,188.03 L158.50,187.93 L158.75,187.82 L159.00,187.70 L159.25,187.58 L159.50,187.46 L159.75,187.33 L160.00,187.19 L160.25,187.05 L160.50,186.90 L160.75,186.73 L161.00,186.52 L161.25,186.29 L161.50,186.03 L161.75,185.74 L162.00,185.43 L162.25,185.11 L162.50,184.78 L162.75,184.43 L163.00,184.06 L163.25,183.67 L163.50,183.25 L163.75,182.81 L164.00,182.35 L164.25,181.87 L164.50,181.36 L164.75,180.84 L165.00,180.30 L165.25,179.74 L165.50,179.17 L165.75,178.59 L166.00,177.99 L166.25,177.39 L166.50,176.77 L166.75,176.14 L167.00,175.51 L167.25,174.87 L167.50,174.21 L167.75,173.51 L168.00,172.78 L168.25,172.02 L168.50,171.24 L168.75,170.43 L169.00,169.61 L169.25,168.77 L169.50,167.91 L169.75,167.05 L170.00,166.18 L170.25,165.30 L170.50,164.43 L170.75,163.55 L171.00,162.68 L171.25,161.82 L171.50,160.96 L171.75,160.12 L172.00,159.30 L172.25,158.47 L172.50,157.63 L172.75,156.77 L173.00,155.90 L173.25,155.02 L173.50,154.15 L173.75,153.28 L174.00,152.43 L174.25,151.59 L174.50,150.78 L174.75,149.99 L175.00,149.24 L175.25,148.52 L175.50,147.85 L175.75,147.21 L176.00,146.54 L176.25,145.84 L176.50,145.15 L176.75,144.47 L177.00,143.83 L177.25,143.26 L177.50,142.77 L177.75,142.38 L178.00,142.12 L178.25,142.00 L178.50,142.03 L178.75,142.14 L179.00,142.34 L179.25,142.62 L179.50,142.96 L179.75,143.37 L180.00,143.83 L180.25,144.35 L180.50,144.91 L180.75,145.52 L181.00,146.16 L181.25,146.82 L181.50,147.51 L181.75,148.21 L182.00,148.93 L182.25,149.65 L182.50,150.49 L182.75,151.48 L183.00,152.61 L183.25,153.85 L183.50,155.19 L183.75,156.61 L184.00,158.07 L184.25,159.57 L184.50,161.08 L184.75,162.58 L185.00,164.06 L185.25,165.48 L185.50,166.94 L185.75,168.46 L186.00,170.03 L186.25,171.63 L186.50,173.24 L186.75,174.85 L187.00,176.44 L187.25,178.00 L187.50,179.50 L187.75,180.93 L188.00,182.29 L188.25,183.55 L188.50,184.76 L188.75,185.93 L189.00,187.06 L189.25,188.16 L189.50,189.23 L189.75,190.28 L190.00,191.31 L190.25,192.33 L190.50,193.34 L190.75,194.34 L191.00,195.35 L191.25,196.36 L191.50,197.39 L191.75,198.43 L192.00,199.48 L192.25,200.54 L192.50,201.61 L192.75,202.67 L193.00,203.72 L193.25,204.75 L193.50,205.77 L193.75,206.76 L194.00,207.71 L194.25,208.63 L194.50,209.50 L194.75,210.34 L195.00,211.17 L195.25,211.99 L195.50,212.79 L195.75,213.58 L196.00,214.36 L196.25,215.12 L196.50,215.86 L196.75,216.58 L197.00,217.29 L197.25,217.97 L197.50,218.64 L197.75,219.28 L198.00,219.90 L198.25,220.50 L198.50,221.08 L198.75,221.63 L199.00,222.19 L199.25,222.75 L199.50,223.29 L199.75,223.80 L200.00,224.28 L200.25,224.70 L200.50,225.06 L200.75,225.35 L201.00,225.59 L201.25,225.81 L201.50,226.03 L201.75,226.22 L202.00,226.38 L202.25,226.51 L202.50,226.58 L202.75,226.60 L203.00,226.59 L203.25,226.55 L203.50,226.51 L203.75,226.45 L204.00,226.38 L204.25,226.31 L204.50,226.24 L204.75,226.17 L205.00,226.10 L205.25,226.04 L205.50,225.97 L205.75,225.91 L206.00,225.84 L206.25,225.77 L206.50,225.70 L206.75,225.63 L207.00,225.56 L207.25,225.48 L207.50,225.40 L207.75,225.32 L208.00,225.24 L208.25,225.16 L208.50,225.08 L208.75,224.99 L209.00,224.90 L209.25,224.81 L209.50,224.71 L209.75,224.62 L210.00,224.51 L210.25,224.41 L210.50,224.31 L210.75,224.20 L211.00,224.09 L211.25,223.97 L211.50,223.86 L211.75,223.74 L212.00,223.62 L212.25,223.50 L212.50,223.38 L212.75,223.25 L213.00,223.13 L213.25,223.00 L213.50,222.88 L213.75,222.75 L214.00,222.62 L214.25,222.49 L214.50,222.36 L214.75,222.23 L215.00,222.10 L215.25,221.96 L215.50,221.83 L215.75,221.70 L216.00,221.57 L216.25,221.44 L216.50,221.31 L216.75,221.18 L217.00,221.05 L217.25,220.92 L217.50,220.79 L217.75,220.66 L218.00,220.52 L218.25,220.39 L218.50,220.25 L218.75,220.12 L219.00,219.98 L219.25,219.85 L219.50,219.71 L219.75,219.57 L220.00,219.43 L220.25,219.29 L220.50,219.15 L220.75,219.01 L221.00,218.87 L221.25,218.73 L221.50,218.59 L221.75,218.45 L222.00,218.30 L222.25,218.16 L222.50,218.01 L222.75,217.87 L223.00,217.72 L223.25,217.58 L223.50,217.43 L223.75,217.29 L224.00,217.14 L224.25,216.99 L224.50,216.85 L224.75,216.70 L225.00,216.55 L225.25,216.40 L225.50,216.25 L225.75,216.10 L226.00,215.94 L226.25,215.79 L226.50,215.64 L226.75,215.48 L227.00,215.33 L227.25,215.17 L227.50,215.02 L227.75,214.86 L228.00,214.71 L228.25,214.55 L228.50,214.39 L228.75,214.23 L229.00,214.08 L229.25,213.92 L229.50,213.76 L229.75,213.60 L230.00,213.44 L230.25,213.28 L230.50,213.12 L230.75,212.96 L231.00,212.80 L231.25,212.64 L231.50,212.48 L231.75,212.32 L232.00,212.16 L232.25,212.00 L232.50,211.84 L232.75,211.67 L233.00,211.51 L233.25,211.35 L233.50,211.19 L233.75,211.03 L234.00,210.87 L234.25,210.71 L234.50,210.55 L234.75,210.39 L235.00,210.23 L235.25,210.07 L235.50,209.91 L235.75,209.75 L236.00,209.59 L236.25,209.43 L236.50,209.27 L236.75,209.11 L237.00,208.96 L237.25,208.80 L237.50,208.64 L237.75,208.49 L238.00,208.33 L238.25,208.17 L238.50,208.02 L238.75,207.86 L239.00,207.71 L239.25,207.56 L239.50,207.40 L239.75,207.25 L240.00,207.10 L240.25,206.95 L240.50,206.80 L240.75,206.65 L241.00,206.50 L241.25,206.35 L241.50,206.20 L241.75,206.05 L242.00,205.90 L242.25,205.75 L242.50,205.60 L242.75,205.45 L243.00,205.30 L243.25,205.15 L243.50,205.00 L243.75,204.85 L244.00,204.71 L244.25,204.56 L244.50,204.41 L244.75,204.26 L245.00,204.11 L245.25,203.97 L245.50,203.82 L245.75,203.67 L246.00,203.53 L246.25,203.38 L246.50,203.23 L246.75,203.09 L247.00,202.94 L247.25,202.79 L247.50,202.65 L247.75,202.50 L248.00,202.36 L248.25,202.21 L248.50,202.07 L248.75,201.92 L249.00,201.78 L249.25,201.63 L249.50,201.49 L249.75,201.34 L250.00,201.20 L250.25,201.05 L250.50,200.91 L250.75,200.77 L251.00,200.62 L251.25,200.48 L251.50,200.33 L251.75,200.19 L252.00,200.05 L252.25,199.90 L252.50,199.76 L252.75,199.62 L253.00,199.48 L253.25,199.33 L253.50,199.19 L253.75,199.05 L254.00,198.91 L254.25,198.76 L254.50,198.62 L254.75,198.48 L255.00,198.34 L255.25,198.19 L255.50,198.05 L255.75,197.91 L256.00,197.77 L256.25,197.63 L256.50,197.49 L256.75,197.35 L257.00,197.20 L257.25,197.06 L257.50,196.92 L257.75,196.78 L258.00,196.64 L258.25,196.50 L258.50,196.36 L258.75,196.22 L259.00,196.08 L259.25,195.94 L259.50,195.80 L259.75,195.66 L260.00,195.52 L260.25,195.37 L260.50,195.23 L260.75,195.09 L261.00,194.95 L261.25,194.81 L261.50,194.67 L261.75,194.53 L262.00,194.39 L262.25,194.25 L262.50,194.11 L262.75,193.97 L263.00,193.84 L263.25,193.70 L263.50,193.56 L263.75,193.42 L264.00,193.28 L264.25,193.14 L264.50,193.00 L264.75,192.86 L265.00,192.72 L265.25,192.58 L265.50,192.44 L265.75,192.30 L266.00,192.16 L266.25,192.02 L266.50,191.88 L266.75,191.74 L267.00,191.60 L267.25,191.46 L267.50,191.33 L267.75,191.19 L268.00,191.05 L268.25,190.91 L268.50,190.77 L268.75,190.63 L269.00,190.49 L269.25,190.35 L269.50,190.21 L269.75,190.07 L270.00,189.93 L270.25,189.79 L270.50,189.65 L270.75,189.51 L271.00,189.37 L271.25,189.24 L271.50,189.10 L271.75,188.96 L272.00,188.82 L272.25,188.68 L272.50,188.54 L272.75,188.40 L273.00,188.26 L273.25,188.12 L273.50,187.98 L273.75,187.84 L274.00,187.70 L274.25,187.56 L274.50,187.42 L274.75,187.28 L275.00,187.14 L275.25,187.00 L275.50,186.86 L275.75,186.72 L276.00,186.58 L276.25,186.44 L276.50,186.30 L276.75,186.16 L277.00,186.02 L277.25,185.88 L277.50,185.74 L277.75,185.60 L278.00,185.46 L278.25,185.32 L278.50,185.18 L278.75,185.04 L279.00,184.90 L279.25,184.75 L279.50,184.61 L279.75,184.47 L280.00,184.33 L280.25,184.19 L280.50,184.05 L280.75,183.91 L281.00,183.77 L281.25,183.62 L281.50,183.48 L281.75,183.34 L282.00,183.20 L282.25,183.06 L282.50,182.91 L282.75,182.77 L283.00,182.63 L283.25,182.49 L283.50,182.34 L283.75,182.20 L284.00,182.06 L284.25,181.92 L284.50,181.77 L284.75,181.63 L285.00,181.49 L285.25,181.34 L285.50,181.20 L285.75,181.06 L286.00,180.91 L286.25,180.77 L286.50,180.62 L286.75,180.48 L287.00,180.34 L287.25,180.19 L287.50,180.05 L287.75,179.90 L288.00,179.76 L288.25,179.61 L288.50,179.47 L288.75,179.32 L289.00,179.18 L289.25,179.03 L289.50,178.89 L289.75,178.74 L290.00,178.59 L290.25,178.45 L290.50,178.30 L290.75,178.15 L291.00,178.01 L291.25,177.86 L291.50,177.71 L291.75,177.57 L292.00,177.42 L292.25,177.27 L292.50,177.12 L292.75,176.98 L293.00,176.83 L293.25,176.68 L293.50,176.53 L293.75,176.38 L294.00,176.23 L294.25,176.08 L294.50,175.94 L294.75,175.79 L295.00,175.64 L295.25,175.49 L295.50,175.34 L295.75,175.19 L296.00,175.04 L296.25,174.88 L296.50,174.73 L296.75,174.58 L297.00,174.43 L297.25,174.28 L297.50,174.13 L297.75,173.98 L298.00,173.82 L298.25,173.67 L298.50,173.52 L298.75,173.37 L299.00,173.21 L299.25,173.06 L299.50,172.91 L299.75,172.75 L300.00,172.60 L300.25,172.45 L300.50,172.29 L300.75,172.14 L301.00,171.98 L301.25,171.83 L301.50,171.67 L301.75,171.52 L302.00,171.36 L302.25,171.21 L302.50,171.05 L302.75,170.89 L303.00,170.74 L303.25,170.58 L303.50,170.43 L303.75,170.27 L304.00,170.11 L304.25,169.95 L304.50,169.80 L304.75,169.64 L305.00,169.48 L305.25,169.32 L305.50,169.17 L305.75,169.01 L306.00,168.85 L306.25,168.69 L306.50,168.53 L306.75,168.37 L307.00,168.22 L307.25,168.06 L307.50,167.90 L307.75,167.74 L308.00,167.58 L308.25,167.42 L308.50,167.26 L308.75,167.10 L309.00,166.94 L309.25,166.78 L309.50,166.62 L309.75,166.46 L310.00,166.30 L310.25,166.13 L310.50,165.97 L310.75,165.81 L311.00,165.65 L311.25,165.49 L311.50,165.33 L311.75,165.17 L312.00,165.00 L312.25,164.84 L312.50,164.68 L312.75,164.52 L313.00,164.35 L313.25,164.19 L313.50,164.03 L313.75,163.87 L314.00,163.70 L314.25,163.54 L314.50,163.38 L314.75,163.21 L315.00,163.05 L315.25,162.88 L315.50,162.72 L315.75,162.56 L316.00,162.39 L316.25,162.23 L316.50,162.06 L316.75,161.90 L317.00,161.73 L317.25,161.57 L317.50,161.40 L317.75,161.24 L318.00,161.07 L318.25,160.91 L318.50,160.74 L318.75,160.58 L319.00,160.41 L319.25,160.25 L319.50,160.08 L319.75,159.91 L320.00,159.75 L320.25,159.58 L320.50,159.42 L320.75,159.25 L321.00,159.08 L321.25,158.92 L321.50,158.75 L321.75,158.58 L322.00,158.41 L322.25,158.25 L322.50,158.08 L322.75,157.91 L323.00,157.75 L323.25,157.58 L323.50,157.41 L323.75,157.24 L324.00,157.07 L324.25,156.91 L324.50,156.74 L324.75,156.57 L325.00,156.40 L325.25,156.23 L325.50,156.07 L325.75,155.90 L326.00,155.73 L326.25,155.56 L326.50,155.39 L326.75,155.22 L327.00,155.05 L327.25,154.88 L327.50,154.72 L327.75,154.55 L328.00,154.38 L328.25,154.21 L328.50,154.04 L328.75,153.87 L329.00,153.70 L329.25,153.53 L329.50,153.36 L329.75,153.19 L330.00,153.02 L330.25,152.85 L330.50,152.68 L330.75,152.51 L331.00,152.34 L331.25,152.17 L331.50,152.00" stroke="#0000ff" stroke-dasharray="2.6 2.46"/><path d="M73.00,142.30 L73.25,142.43 L73.50,142.57 L73.75,142.70 L74.00,142.84 L74.25,142.97 L74.50,143.11 L74.75,143.24 L75.00,143.38 L75.25,143.51 L75.50,143.65 L75.75,143.78 L76.00,143.91 L76.25,144.05 L76.50,144.18 L76.75,144.32 L77.00,144.45 L77.25,144.58 L77.50,144.72 L77.75,144.85 L78.00,144.98 L78.25,145.12 L78.50,145.25 L78.75,145.38 L79.00,145.52 L79.25,145.65 L79.50,145.78 L79.75,145.92 L80.00,146.05 L80.25,146.18 L80.50,146.32 L80.75,146.45 L81.00,146.58 L81.25,146.72 L81.50,146.85 L81.75,146.98 L82.00,147.11 L82.25,147.25 L82.50,147.38 L82.75,147.51 L83.00,147.64 L83.25,147.78 L83.50,147.91 L83.75,148.04 L84.00,148.17 L84.25,148.30 L84.50,148.44 L84.75,148.57 L85.00,148.70 L85.25,148.83 L85.50,148.96 L85.75,149.10 L86.00,149.23 L86.25,149.36 L86.50,149.49 L86.75,149.62 L87.00,149.75 L87.25,149.89 L87.50,150.02 L87.75,150.15 L88.00,150.28 L88.25,150.41 L88.50,150.54 L88.75,150.67 L89.00,150.80 L89.25,150.93 L89.50,151.06 L89.75,151.19 L90.00,151.33 L90.25,151.46 L90.50,151.59 L90.75,151.72 L91.00,151.85 L91.25,151.98 L91.50,152.11 L91.75,152.24 L92.00,152.37 L92.25,152.50 L92.50,152.63 L92.75,152.76 L93.00,152.89 L93.25,153.02 L93.50,153.15 L93.75,153.28 L94.00,153.41 L94.25,153.54 L94.50,153.67 L94.75,153.80 L95.00,153.93 L95.25,154.05 L95.50,154.18 L95.75,154.31 L96.00,154.44 L96.25,154.57 L96.50,154.70 L96.75,154.83 L97.00,154.96 L97.25,155.09 L97.50,155.22 L97.75,155.34 L98.00,155.47 L98.25,155.60 L98.50,155.73 L98.75,155.86 L99.00,155.99 L99.25,156.12 L99.50,156.24 L99.75,156.37 L100.00,156.50 L100.25,156.63 L100.50,156.76 L100.75,156.89 L101.00,157.02 L101.25,157.15 L101.50,157.28 L101.75,157.41 L102.00,157.54 L102.25,157.67 L102.50,157.80 L102.75,157.93 L103.00,158.06 L103.25,158.20 L103.50,158.33 L103.75,158.46 L104.00,158.60 L104.25,158.73 L104.50,158.86 L104.75,159.00 L105.00,159.13 L105.25,159.26 L105.50,159.40 L105.75,159.53 L106.00,159.67 L106.25,159.80 L106.50,159.94 L106.75,160.07 L107.00,160.21 L107.25,160.34 L107.50,160.47 L107.75,160.61 L108.00,160.74 L108.25,160.88 L108.50,161.01 L108.75,161.15 L109.00,161.28 L109.25,161.42 L109.50,161.55 L109.75,161.68 L110.00,161.82 L110.25,161.95 L110.50,162.08 L110.75,162.22 L111.00,162.35 L111.25,162.48 L111.50,162.62 L111.75,162.75 L112.00,162.88 L112.25,163.01 L112.50,163.14 L112.75,163.28 L113.00,163.41 L113.25,163.54 L113.50,163.67 L113.75,163.80 L114.00,163.93 L114.25,164.06 L114.50,164.18 L114.75,164.31 L115.00,164.44 L115.25,164.57 L115.50,164.69 L115.75,164.82 L116.00,164.95 L116.25,165.07 L116.50,165.19 L116.75,165.32 L117.00,165.44 L117.25,165.57 L117.50,165.69 L117.75,165.81 L118.00,165.93 L118.25,166.05 L118.50,166.17 L118.75,166.29 L119.00,166.41 L119.25,166.53 L119.50,166.64 L119.75,166.76 L120.00,166.87 L120.25,166.99 L120.50,167.10 L120.75,167.22 L121.00,167.33 L121.25,167.44 L121.50,167.55 L121.75,167.66 L122.00,167.77 L122.25,167.88 L122.50,167.98 L122.75,168.09 L123.00,168.19 L123.25,168.30 L123.50,168.40 L123.75,168.50 L124.00,168.61 L124.25,168.71 L124.50,168.80 L124.75,168.90 L125.00,169.00 L125.25,169.10 L125.50,169.19 L125.75,169.29 L126.00,169.39 L126.25,169.49 L126.50,169.58 L126.75,169.68 L127.00,169.78 L127.25,169.88 L127.50,169.97 L127.75,170.07 L128.00,170.17 L128.25,170.26 L128.50,170.36 L128.75,170.45 L129.00,170.55 L129.25,170.64 L129.50,170.73 L129.75,170.82 L130.00,170.91 L130.25,171.00 L130.50,171.08 L130.75,171.17 L131.00,171.25 L131.25,171.33 L131.50,171.41 L131.75,171.49 L132.00,171.57 L132.25,171.64 L132.50,171.71 L132.75,171.78 L133.00,171.85 L133.25,171.92 L133.50,171.98 L133.75,172.04 L134.00,172.10 L134.25,172.15 L134.50,172.20 L134.75,172.25 L135.00,172.30 L135.25,172.34 L135.50,172.39 L135.75,172.43 L136.00,172.48 L136.25,172.52 L136.50,172.57 L136.75,172.61 L137.00,172.66 L137.25,172.70 L137.50,172.75 L137.75,172.79 L138.00,172.83 L138.25,172.87 L138.50,172.91 L138.75,172.96 L139.00,173.00 L139.25,173.04 L139.50,173.08 L139.75,173.11 L140.00,173.15 L140.25,173.19 L140.50,173.22 L140.75,173.26 L141.00,173.29 L141.25,173.33 L141.50,173.36 L141.75,173.39 L142.00,173.42 L142.25,173.45 L142.50,173.47 L142.75,173.50 L143.00,173.52 L143.25,173.55 L143.50,173.57 L143.75,173.59 L144.00,173.61 L144.25,173.62 L144.50,173.64 L144.75,173.65 L145.00,173.67 L145.25,173.68 L145.50,173.68 L145.75,173.69 L146.00,173.70 L146.25,173.70 L146.50,173.70 L146.75,173.70 L147.00,173.69 L147.25,173.69 L147.50,173.68 L147.75,173.66 L148.00,173.65 L148.25,173.63 L148.50,173.61 L148.75,173.59 L149.00,173.56 L149.25,173.53 L149.50,173.50 L149.75,173.47 L150.00,173.44 L150.25,173.40 L150.50,173.37 L150.75,173.33 L151.00,173.29 L151.25,173.25 L151.50,173.20 L151.75,173.16 L152.00,173.11 L152.25,173.07 L152.50,173.02 L152.75,172.97 L153.00,172.92 L153.25,172.87 L153.50,172.82 L153.75,172.77 L154.00,172.71 L154.25,172.66 L154.50,172.61 L154.75,172.55 L155.00,172.50 L155.25,172.44 L155.50,172.38 L155.75,172.32 L156.00,172.25 L156.25,172.18 L156.50,172.10 L156.75,172.02 L157.00,171.94 L157.25,171.85 L157.50,171.76 L157.75,171.66 L158.00,171.56 L158.25,171.46 L158.50,171.35 L158.75,171.23 L159.00,171.11 L159.25,170.99 L159.50,170.87 L159.75,170.74 L160.00,170.60 L160.25,170.45 L160.50,170.28 L160.75,170.09 L161.00,169.89 L161.25,169.67 L161.50,169.44 L161.75,169.20 L162.00,168.94 L162.25,168.69 L162.50,168.43 L162.75,168.17 L163.00,167.91 L163.25,167.65 L163.50,167.40 L163.75,167.15 L164.00,166.90 L164.25,166.65 L164.50,166.40 L164.75,166.14 L165.00,165.88 L165.25,165.62 L165.50,165.36 L165.75,165.10 L166.00,164.84 L166.25,164.57 L166.50,164.31 L166.75,164.06 L167.00,163.80 L167.25,163.55 L167.50,163.29 L167.75,163.04 L168.00,162.79 L168.25,162.53 L168.50,162.28 L168.75,162.03 L169.00,161.78 L169.25,161.53 L169.50,161.28 L169.75,161.03 L170.00,160.79 L170.25,160.54 L170.50,160.30 L170.75,160.05 L171.00,159.80 L171.25,159.55 L171.50,159.29 L171.75,159.03 L172.00,158.77 L172.25,158.52 L172.50,158.27 L172.75,158.03 L173.00,157.80 L173.25,157.58 L173.50,157.37 L173.75,157.18 L174.00,157.00 L174.25,156.83 L174.50,156.66 L174.75,156.48 L175.00,156.30 L175.25,156.13 L175.50,155.95 L175.75,155.78 L176.00,155.61 L176.25,155.45 L176.50,155.29 L176.75,155.14 L177.00,155.00 L177.25,154.87 L177.50,154.75 L177.75,154.64 L178.00,154.55 L178.25,154.46 L178.50,154.40 L178.75,154.35 L179.00,154.31 L179.25,154.30 L179.50,154.31 L179.75,154.35 L180.00,154.41 L180.25,154.50 L180.50,154.61 L180.75,154.75 L181.00,154.91 L181.25,155.08 L181.50,155.28 L181.75,155.50 L182.00,155.73 L182.25,155.98 L182.50,156.24 L182.75,156.51 L183.00,156.80 L183.25,157.10 L183.50,157.40 L183.75,157.72 L184.00,158.04 L184.25,158.37 L184.50,158.77 L184.75,159.28 L185.00,159.87 L185.25,160.53 L185.50,161.27 L185.75,162.06 L186.00,162.89 L186.25,163.75 L186.50,164.63 L186.75,165.52 L187.00,166.41 L187.25,167.28 L187.50,168.13 L187.75,168.95 L188.00,169.71 L188.25,170.43 L188.50,171.13 L188.75,171.82 L189.00,172.51 L189.25,173.19 L189.50,173.87 L189.75,174.54 L190.00,175.21 L190.25,175.88 L190.50,176.55 L190.75,177.22 L191.00,177.90 L191.25,178.58 L191.50,179.25 L191.75,179.92 L192.00,180.60 L192.25,181.27 L192.50,181.94 L192.75,182.61 L193.00,183.28 L193.25,183.95 L193.50,184.62 L193.75,185.29 L194.00,185.96 L194.25,186.63 L194.50,187.30 L194.75,187.97 L195.00,188.65 L195.25,189.32 L195.50,190.00 L195.75,190.69 L196.00,191.39 L196.25,192.10 L196.50,192.82 L196.75,193.54 L197.00,194.26 L197.25,194.96 L197.50,195.66 L197.75,196.33 L198.00,196.98 L198.25,197.61 L198.50,198.20 L198.75,198.78 L199.00,199.35 L199.25,199.92 L199.50,200.47 L199.75,201.01 L200.00,201.52 L200.25,202.00 L200.50,202.44 L200.75,202.85 L201.00,203.20 L201.25,203.53 L201.50,203.85 L201.75,204.15 L202.00,204.43 L202.25,204.68 L202.50,204.90 L202.75,205.07 L203.00,205.20 L203.25,205.30 L203.50,205.39 L203.75,205.48 L204.00,205.56 L204.25,205.63 L204.50,205.70 L204.75,205.76 L205.00,205.81 L205.25,205.85 L205.50,205.88 L205.75,205.89 L206.00,205.90 L206.25,205.90 L206.50,205.88 L206.75,205.86 L207.00,205.84 L207.25,205.81 L207.50,205.77 L207.75,205.73 L208.00,205.69 L208.25,205.64 L208.50,205.59 L208.75,205.55 L209.00,205.50 L209.25,205.45 L209.50,205.39 L209.75,205.33 L210.00,205.27 L210.25,205.19 L210.50,205.12 L210.75,205.04 L211.00,204.95 L211.25,204.87 L211.50,204.78 L211.75,204.69 L212.00,204.60 L212.25,204.51 L212.50,204.42 L212.75,204.32 L213.00,204.24 L213.25,204.15 L213.50,204.06 L213.75,203.97 L214.00,203.88 L214.25,203.78 L214.50,203.69 L214.75,203.60 L215.00,203.50 L215.25,203.40 L215.50,203.31 L215.75,203.21 L216.00,203.11 L216.25,203.01 L216.50,202.91 L216.75,202.81 L217.00,202.71 L217.25,202.60 L217.50,202.50 L217.75,202.40 L218.00,202.29 L218.25,202.19 L218.50,202.08 L218.75,201.97 L219.00,201.87 L219.25,201.76 L219.50,201.65 L219.75,201.54 L220.00,201.44 L220.25,201.33 L220.50,201.22 L220.75,201.11 L221.00,201.00 L221.25,200.89 L221.50,200.78 L221.75,200.67 L222.00,200.56 L222.25,200.44 L222.50,200.33 L222.75,200.22 L223.00,200.11 L223.25,199.99 L223.50,199.88 L223.75,199.77 L224.00,199.65 L224.25,199.54 L224.50,199.42 L224.75,199.30 L225.00,199.19 L225.25,199.07 L225.50,198.95 L225.75,198.83 L226.00,198.71 L226.25,198.59 L226.50,198.47 L226.75,198.35 L227.00,198.23 L227.25,198.11 L227.50,197.99 L227.75,197.87 L228.00,197.74 L228.25,197.62 L228.50,197.49 L228.75,197.37 L229.00,197.24 L229.25,197.11 L229.50,196.99 L229.75,196.86 L230.00,196.73 L230.25,196.60 L230.50,196.47 L230.75,196.34 L231.00,196.21 L231.25,196.08 L231.50,195.95 L231.75,195.81 L232.00,195.68 L232.25,195.54 L232.50,195.40 L232.75,195.26 L233.00,195.12 L233.25,194.98 L233.50,194.83 L233.75,194.69 L234.00,194.54 L234.25,194.40 L234.50,194.25 L234.75,194.10 L235.00,193.95 L235.25,193.80 L235.50,193.65 L235.75,193.50 L236.00,193.35 L236.25,193.20 L236.50,193.05 L236.75,192.90 L237.00,192.75 L237.25,192.60 L237.50,192.45 L237.75,192.30 L238.00,192.15 L238.25,192.01 L238.50,191.86 L238.75,191.71 L239.00,191.57 L239.25,191.43 L239.50,191.28 L239.75,191.14 L240.00,191.00 L240.25,190.86 L240.50,190.72 L240.75,190.58 L241.00,190.44 L241.25,190.30 L241.50,190.16 L241.75,190.03 L242.00,189.89 L242.25,189.75 L242.50,189.61 L242.75,189.47 L243.00,189.34 L243.25,189.20 L243.50,189.06 L243.75,188.92 L244.00,188.79 L244.25,188.65 L244.50,188.51 L244.75,188.37 L245.00,188.24 L245.25,188.10 L245.50,187.97 L245.75,187.83 L246.00,187.69 L246.25,187.56 L246.50,187.42 L246.75,187.29 L247.00,187.15 L247.25,187.02 L247.50,186.88 L247.75,186.75 L248.00,186.61 L248.25,186.48 L248.50,186.34 L248.75,186.21 L249.00,186.07 L249.25,185.94 L249.50,185.80 L249.75,185.67 L250.00,185.54 L250.25,185.40 L250.50,185.27 L250.75,185.13 L251.00,185.00 L251.25,184.87 L251.50,184.73 L251.75,184.60 L252.00,184.47 L252.25,184.34 L252.50,184.20 L252.75,184.07 L253.00,183.94 L253.25,183.80 L253.50,183.67 L253.75,183.54 L254.00,183.41 L254.25,183.28 L254.50,183.14 L254.75,183.01 L255.00,182.88 L255.25,182.75 L255.50,182.62 L255.75,182.49 L256.00,182.35 L256.25,182.22 L256.50,182.09 L256.75,181.96 L257.00,181.83 L257.25,181.70 L257.50,181.57 L257.75,181.44 L258.00,181.31 L258.25,181.18 L258.50,181.05 L258.75,180.92 L259.00,180.79 L259.25,180.65 L259.50,180.52 L259.75,180.39 L260.00,180.26 L260.25,180.13 L260.50,180.00 L260.75,179.87 L261.00,179.74 L261.25,179.62 L261.50,179.49 L261.75,179.36 L262.00,179.23 L262.25,179.10 L262.50,178.97 L262.75,178.84 L263.00,178.71 L263.25,178.58 L263.50,178.45 L263.75,178.32 L264.00,178.19 L264.25,178.06 L264.50,177.93 L264.75,177.81 L265.00,177.68 L265.25,177.55 L265.50,177.42 L265.75,177.29 L266.00,177.16 L266.25,177.03 L266.50,176.90 L266.75,176.78 L267.00,176.65 L267.25,176.52 L267.50,176.39 L267.75,176.26 L268.00,176.13 L268.25,176.00 L268.50,175.88 L268.75,175.75 L269.00,175.62 L269.25,175.49 L269.50,175.36 L269.75,175.23 L270.00,175.11 L270.25,174.98 L270.50,174.85 L270.75,174.72 L271.00,174.59 L271.25,174.47 L271.50,174.34 L271.75,174.21 L272.00,174.08 L272.25,173.95 L272.50,173.83 L272.75,173.70 L273.00,173.57 L273.25,173.44 L273.50,173.31 L273.75,173.19 L274.00,173.06 L274.25,172.93 L274.50,172.80 L274.75,172.67 L275.00,172.54 L275.25,172.42 L275.50,172.29 L275.75,172.16 L276.00,172.03 L276.25,171.90 L276.50,171.78 L276.75,171.65 L277.00,171.52 L277.25,171.39 L277.50,171.26 L277.75,171.14 L278.00,171.01 L278.25,170.88 L278.50,170.75 L278.75,170.62 L279.00,170.49 L279.25,170.37 L279.50,170.24 L279.75,170.11 L280.00,169.98 L280.25,169.85 L280.50,169.72 L280.75,169.60 L281.00,169.47 L281.25,169.34 L281.50,169.21 L281.75,169.08 L282.00,168.95 L282.25,168.82 L282.50,168.69 L282.75,168.57 L283.00,168.44 L283.25,168.31 L283.50,168.18 L283.75,168.05 L284.00,167.92 L284.25,167.79 L284.50,167.66 L284.75,167.53 L285.00,167.40 L285.25,167.27 L285.50,167.15 L285.75,167.02 L286.00,166.89 L286.25,166.76 L286.50,166.63 L286.75,166.50 L287.00,166.37 L287.25,166.24 L287.50,166.11 L287.75,165.98 L288.00,165.85 L288.25,165.72 L288.50,165.59 L288.75,165.46 L289.00,165.33 L289.25,165.20 L289.50,165.07 L289.75,164.94 L290.00,164.81 L290.25,164.67 L290.50,164.54 L290.75,164.41 L291.00,164.28 L291.25,164.15 L291.50,164.02 L291.75,163.89 L292.00,163.76 L292.25,163.63 L292.50,163.49 L292.75,163.36 L293.00,163.23 L293.25,163.10 L293.50,162.97 L293.75,162.84 L294.00,162.70 L294.25,162.57 L294.50,162.44 L294.75,162.31 L295.00,162.17 L295.25,162.04 L295.50,161.91 L295.75,161.78 L296.00,161.64 L296.25,161.51 L296.50,161.38 L296.75,161.24 L297.00,161.11 L297.25,160.98 L297.50,160.84 L297.75,160.71 L298.00,160.58 L298.25,160.44 L298.50,160.31 L298.75,160.17 L299.00,160.04 L299.25,159.90 L299.50,159.77 L299.75,159.63 L300.00,159.50 L300.25,159.37 L300.50,159.23 L300.75,159.09 L301.00,158.96 L301.25,158.82 L301.50,158.69 L301.75,158.55 L302.00,158.42 L302.25,158.28 L302.50,158.15 L302.75,158.01 L303.00,157.88 L303.25,157.74 L303.50,157.60 L303.75,157.47 L304.00,157.33 L304.25,157.20 L304.50,157.06 L304.75,156.93 L305.00,156.79 L305.25,156.65 L305.50,156.52 L305.75,156.38 L306.00,156.24 L306.25,156.11 L306.50,155.97 L306.75,155.83 L307.00,155.70 L307.25,155.56 L307.50,155.42 L307.75,155.29 L308.00,155.15 L308.25,155.01 L308.50,154.88 L308.75,154.74 L309.00,154.60 L309.25,154.47 L309.50,154.33 L309.75,154.19 L310.00,154.06 L310.25,153.92 L310.50,153.78 L310.75,153.64 L311.00,153.51 L311.25,153.37 L311.50,153.23 L311.75,153.09 L312.00,152.96 L312.25,152.82 L312.50,152.68 L312.75,152.54 L313.00,152.41 L313.25,152.27 L313.50,152.13 L313.75,151.99 L314.00,151.85 L314.25,151.72 L314.50,151.58 L314.75,151.44 L315.00,151.30 L315.25,151.16 L315.50,151.03 L315.75,150.89 L316.00,150.75 L316.25,150.61 L316.50,150.47 L316.75,150.33 L317.00,150.19 L317.25,150.06 L317.50,149.92 L317.75,149.78 L318.00,149.64 L318.25,149.50 L318.50,149.36 L318.75,149.22 L319.00,149.09 L319.25,148.95 L319.50,148.81 L319.75,148.67 L320.00,148.53 L320.25,148.39 L320.50,148.25 L320.75,148.11 L321.00,147.97 L321.25,147.83 L321.50,147.70 L321.75,147.56 L322.00,147.42 L322.25,147.28 L322.50,147.14 L322.75,147.00 L323.00,146.86 L323.25,146.72 L323.50,146.58 L323.75,146.44 L324.00,146.30 L324.25,146.16 L324.50,146.02 L324.75,145.88 L325.00,145.74 L325.25,145.60 L325.50,145.46 L325.75,145.32 L326.00,145.18 L326.25,145.04 L326.50,144.90 L326.75,144.76 L327.00,144.62 L327.25,144.48 L327.50,144.34 L327.75,144.20 L328.00,144.06 L328.25,143.92 L328.50,143.78 L328.75,143.64 L329.00,143.50 L329.25,143.36 L329.50,143.22 L329.75,143.08 L330.00,142.94 L330.25,142.80 L330.50,142.66 L330.75,142.52 L331.00,142.38 L331.25,142.24 L331.50,142.10" stroke="#00ff00" stroke-dasharray="10.3 9.74"/></g>
<g clip-path="url(#cb)" fill="none" stroke-width="2.6" stroke-linejoin="round"><path d="M414.50,70.30 L414.75,70.63 L415.00,70.97 L415.25,71.30 L415.50,71.64 L415.75,71.97 L416.00,72.31 L416.25,72.64 L416.50,72.98 L416.75,73.31 L417.00,73.65 L417.25,73.98 L417.50,74.32 L417.75,74.65 L418.00,74.99 L418.25,75.32 L418.50,75.66 L418.75,76.00 L419.00,76.33 L419.25,76.67 L419.50,77.00 L419.75,77.34 L420.00,77.67 L420.25,78.01 L420.50,78.34 L420.75,78.68 L421.00,79.02 L421.25,79.35 L421.50,79.69 L421.75,80.02 L422.00,80.36 L422.25,80.70 L422.50,81.03 L422.75,81.37 L423.00,81.71 L423.25,82.04 L423.50,82.38 L423.75,82.72 L424.00,83.06 L424.25,83.39 L424.50,83.73 L424.75,84.07 L425.00,84.41 L425.25,84.74 L425.50,85.08 L425.75,85.42 L426.00,85.76 L426.25,86.10 L426.50,86.44 L426.75,86.79 L427.00,87.13 L427.25,87.47 L427.50,87.81 L427.75,88.16 L428.00,88.50 L428.25,88.85 L428.50,89.19 L428.75,89.54 L429.00,89.88 L429.25,90.23 L429.50,90.57 L429.75,90.92 L430.00,91.27 L430.25,91.62 L430.50,91.96 L430.75,92.31 L431.00,92.66 L431.25,93.01 L431.50,93.36 L431.75,93.71 L432.00,94.06 L432.25,94.41 L432.50,94.76 L432.75,95.11 L433.00,95.46 L433.25,95.81 L433.50,96.16 L433.75,96.51 L434.00,96.86 L434.25,97.21 L434.50,97.56 L434.75,97.91 L435.00,98.27 L435.25,98.62 L435.50,98.97 L435.75,99.32 L436.00,99.67 L436.25,100.03 L436.50,100.38 L436.75,100.73 L437.00,101.08 L437.25,101.44 L437.50,101.79 L437.75,102.14 L438.00,102.49 L438.25,102.85 L438.50,103.20 L438.75,103.55 L439.00,103.90 L439.25,104.26 L439.50,104.61 L439.75,104.96 L440.00,105.31 L440.25,105.66 L440.50,106.02 L440.75,106.37 L441.00,106.72 L441.25,107.07 L441.50,107.42 L441.75,107.77 L442.00,108.12 L442.25,108.48 L442.50,108.83 L442.75,109.18 L443.00,109.53 L443.25,109.88 L443.50,110.23 L443.75,110.58 L444.00,110.92 L444.25,111.27 L444.50,111.62 L444.75,111.97 L445.00,112.32 L445.25,112.67 L445.50,113.01 L445.75,113.36 L446.00,113.71 L446.25,114.05 L446.50,114.40 L446.75,114.74 L447.00,115.09 L447.25,115.43 L447.50,115.78 L447.75,116.12 L448.00,116.47 L448.25,116.81 L448.50,117.15 L448.75,117.49 L449.00,117.83 L449.25,118.18 L449.50,118.52 L449.75,118.86 L450.00,119.20 L450.25,119.53 L450.50,119.87 L450.75,120.21 L451.00,120.55 L451.25,120.88 L451.50,121.22 L451.75,121.56 L452.00,121.89 L452.25,122.22 L452.50,122.56 L452.75,122.89 L453.00,123.22 L453.25,123.55 L453.50,123.89 L453.75,124.22 L454.00,124.54 L454.25,124.87 L454.50,125.20 L454.75,125.53 L455.00,125.86 L455.25,126.18 L455.50,126.51 L455.75,126.83 L456.00,127.15 L456.25,127.48 L456.50,127.80 L456.75,128.12 L457.00,128.44 L457.25,128.76 L457.50,129.08 L457.75,129.39 L458.00,129.71 L458.25,130.03 L458.50,130.34 L458.75,130.65 L459.00,130.97 L459.25,131.28 L459.50,131.59 L459.75,131.90 L460.00,132.21 L460.25,132.52 L460.50,132.82 L460.75,133.13 L461.00,133.44 L461.25,133.74 L461.50,134.04 L461.75,134.35 L462.00,134.65 L462.25,134.95 L462.50,135.25 L462.75,135.55 L463.00,135.85 L463.25,136.15 L463.50,136.45 L463.75,136.75 L464.00,137.05 L464.25,137.35 L464.50,137.65 L464.75,137.95 L465.00,138.25 L465.25,138.54 L465.50,138.84 L465.75,139.14 L466.00,139.43 L466.25,139.73 L466.50,140.02 L466.75,140.32 L467.00,140.61 L467.25,140.90 L467.50,141.20 L467.75,141.49 L468.00,141.78 L468.25,142.07 L468.50,142.36 L468.75,142.65 L469.00,142.94 L469.25,143.23 L469.50,143.52 L469.75,143.81 L470.00,144.10 L470.25,144.38 L470.50,144.67 L470.75,144.96 L471.00,145.24 L471.25,145.53 L471.50,145.81 L471.75,146.09 L472.00,146.38 L472.25,146.66 L472.50,146.94 L472.75,147.22 L473.00,147.50 L473.25,147.78 L473.50,148.06 L473.75,148.34 L474.00,148.62 L474.25,148.89 L474.50,149.17 L474.75,149.45 L475.00,149.72 L475.25,150.00 L475.50,150.27 L475.75,150.54 L476.00,150.82 L476.25,151.09 L476.50,151.36 L476.75,151.63 L477.00,151.90 L477.25,152.17 L477.50,152.44 L477.75,152.70 L478.00,152.97 L478.25,153.24 L478.50,153.50 L478.75,153.76 L479.00,154.03 L479.25,154.29 L479.50,154.55 L479.75,154.81 L480.00,155.07 L480.25,155.33 L480.50,155.59 L480.75,155.85 L481.00,156.11 L481.25,156.36 L481.50,156.62 L481.75,156.87 L482.00,157.13 L482.25,157.38 L482.50,157.63 L482.75,157.88 L483.00,158.13 L483.25,158.38 L483.50,158.63 L483.75,158.88 L484.00,159.13 L484.25,159.37 L484.50,159.62 L484.75,159.86 L485.00,160.11 L485.25,160.35 L485.50,160.59 L485.75,160.83 L486.00,161.06 L486.25,161.30 L486.50,161.53 L486.75,161.76 L487.00,161.99 L487.25,162.22 L487.50,162.44 L487.75,162.67 L488.00,162.89 L488.25,163.11 L488.50,163.33 L488.75,163.54 L489.00,163.76 L489.25,163.97 L489.50,164.18 L489.75,164.39 L490.00,164.60 L490.25,164.81 L490.50,165.02 L490.75,165.22 L491.00,165.43 L491.25,165.64 L491.50,165.85 L491.75,166.05 L492.00,166.26 L492.25,166.46 L492.50,166.67 L492.75,166.86 L493.00,167.06 L493.25,167.26 L493.50,167.45 L493.75,167.64 L494.00,167.82 L494.25,168.00 L494.50,168.18 L494.75,168.35 L495.00,168.52 L495.25,168.68 L495.50,168.84 L495.75,168.99 L496.00,169.14 L496.25,169.29 L496.50,169.44 L496.75,169.59 L497.00,169.74 L497.25,169.88 L497.50,170.02 L497.75,170.15 L498.00,170.28 L498.25,170.40 L498.50,170.51 L498.75,170.62 L499.00,170.72 L499.25,170.82 L499.50,170.90 L499.75,170.98 L500.00,171.06 L500.25,171.14 L500.50,171.22 L500.75,171.30 L501.00,171.37 L501.25,171.43 L501.50,171.49 L501.75,171.54 L502.00,171.57 L502.25,171.59 L502.50,171.60 L502.75,171.59 L503.00,171.57 L503.25,171.53 L503.50,171.48 L503.75,171.43 L504.00,171.36 L504.25,171.28 L504.50,171.19 L504.75,171.10 L505.00,171.00 L505.25,170.90 L505.50,170.80 L505.75,170.68 L506.00,170.53 L506.25,170.36 L506.50,170.16 L506.75,169.94 L507.00,169.71 L507.25,169.45 L507.50,169.18 L507.75,168.90 L508.00,168.61 L508.25,168.31 L508.50,168.00 L508.75,167.68 L509.00,167.32 L509.25,166.94 L509.50,166.53 L509.75,166.09 L510.00,165.63 L510.25,165.14 L510.50,164.63 L510.75,164.11 L511.00,163.57 L511.25,163.01 L511.50,162.42 L511.75,161.78 L512.00,161.08 L512.25,160.28 L512.50,159.39 L512.75,158.35 L513.00,157.07 L513.25,155.55 L513.50,153.81 L513.75,151.87 L514.00,149.75 L514.25,147.47 L514.50,144.82 L514.75,141.51 L515.00,137.88 L515.25,134.29 L515.50,130.61 L515.75,126.80 L516.00,122.99 L516.25,119.31 L516.50,115.80 L516.75,112.36 L517.00,108.99 L517.25,105.69 L517.50,102.49 L517.75,99.38 L518.00,96.21 L518.25,93.00 L518.50,89.93 L518.75,87.14 L519.00,84.78 L519.25,82.89 L519.50,81.03 L519.75,79.23 L520.00,77.60 L520.25,76.22 L520.50,75.19 L520.75,74.60 L521.00,74.58 L521.25,75.40 L521.50,76.92 L521.75,78.90 L522.00,81.11 L522.25,83.60 L522.50,87.17 L522.75,91.21 L523.00,95.00 L523.25,98.38 L523.50,101.67 L523.75,104.87 L524.00,108.00 L524.25,110.93 L524.50,113.72 L524.75,116.66 L525.00,120.00 L525.25,123.80 L525.50,127.93 L525.75,132.24 L526.00,136.59 L526.25,140.85 L526.50,145.24 L526.75,149.86 L527.00,154.62 L527.25,159.44 L527.50,164.27 L527.75,169.01 L528.00,173.60 L528.25,177.95 L528.50,182.00 L528.75,185.66 L529.00,188.86 L529.25,191.61 L529.50,194.15 L529.75,196.53 L530.00,198.76 L530.25,200.85 L530.50,202.80 L530.75,204.64 L531.00,206.36 L531.25,207.98 L531.50,209.50 L531.75,210.95 L532.00,212.36 L532.25,213.71 L532.50,215.01 L532.75,216.27 L533.00,217.49 L533.25,218.66 L533.50,219.80 L533.75,220.90 L534.00,221.96 L534.25,222.99 L534.50,223.99 L534.75,224.96 L535.00,225.90 L535.25,226.82 L535.50,227.71 L535.75,228.58 L536.00,229.44 L536.25,230.28 L536.50,231.10 L536.75,231.90 L537.00,232.69 L537.25,233.45 L537.50,234.20 L537.75,234.94 L538.00,235.65 L538.25,236.35 L538.50,237.02 L538.75,237.68 L539.00,238.33 L539.25,238.95 L539.50,239.56 L539.75,240.15 L540.00,240.72 L540.25,241.27 L540.50,241.80 L540.75,242.34 L541.00,242.91 L541.25,243.50 L541.50,244.08 L541.75,244.65 L542.00,245.19 L542.25,245.68 L542.50,246.12 L542.75,246.48 L543.00,246.76 L543.25,246.94 L543.50,247.00 L543.75,246.94 L544.00,246.76 L544.25,246.48 L544.50,246.12 L544.75,245.68 L545.00,245.19 L545.25,244.65 L545.50,244.08 L545.75,243.50 L546.00,242.91 L546.25,242.34 L546.50,241.80 L546.75,241.27 L547.00,240.72 L547.25,240.15 L547.50,239.56 L547.75,238.95 L548.00,238.33 L548.25,237.68 L548.50,237.02 L548.75,236.35 L549.00,235.65 L549.25,234.94 L549.50,234.20 L549.75,233.45 L550.00,232.69 L550.25,231.90 L550.50,231.10 L550.75,230.28 L551.00,229.44 L551.25,228.58 L551.50,227.71 L551.75,226.82 L552.00,225.90 L552.25,224.96 L552.50,223.99 L552.75,222.99 L553.00,221.96 L553.25,220.90 L553.50,219.80 L553.75,218.66 L554.00,217.49 L554.25,216.27 L554.50,215.01 L554.75,213.71 L555.00,212.36 L555.25,210.95 L555.50,209.50 L555.75,207.98 L556.00,206.36 L556.25,204.64 L556.50,202.80 L556.75,200.85 L557.00,198.76 L557.25,196.53 L557.50,194.15 L557.75,191.61 L558.00,188.86 L558.25,185.66 L558.50,182.00 L558.75,177.95 L559.00,173.60 L559.25,169.01 L559.50,164.27 L559.75,159.44 L560.00,154.62 L560.25,149.86 L560.50,145.24 L560.75,140.85 L561.00,136.59 L561.25,132.24 L561.50,127.93 L561.75,123.80 L562.00,120.00 L562.25,116.66 L562.50,113.72 L562.75,110.93 L563.00,108.00 L563.25,104.87 L563.50,101.67 L563.75,98.38 L564.00,95.00 L564.25,91.21 L564.50,87.17 L564.75,83.60 L565.00,81.11 L565.25,78.90 L565.50,76.92 L565.75,75.40 L566.00,74.58 L566.25,74.60 L566.50,75.19 L566.75,76.22 L567.00,77.60 L567.25,79.23 L567.50,81.03 L567.75,82.89 L568.00,84.78 L568.25,87.14 L568.50,89.93 L568.75,93.00 L569.00,96.21 L569.25,99.38 L569.50,102.49 L569.75,105.69 L570.00,108.99 L570.25,112.36 L570.50,115.80 L570.75,119.31 L571.00,122.99 L571.25,126.80 L571.50,130.61 L571.75,134.29 L572.00,137.88 L572.25,141.51 L572.50,144.82 L572.75,147.47 L573.00,149.75 L573.25,151.87 L573.50,153.81 L573.75,155.55 L574.00,157.07 L574.25,158.35 L574.50,159.39 L574.75,160.28 L575.00,161.08 L575.25,161.78 L575.50,162.42 L575.75,163.01 L576.00,163.57 L576.25,164.11 L576.50,164.63 L576.75,165.14 L577.00,165.63 L577.25,166.09 L577.50,166.53 L577.75,166.94 L578.00,167.32 L578.25,167.68 L578.50,168.00 L578.75,168.31 L579.00,168.61 L579.25,168.90 L579.50,169.18 L579.75,169.45 L580.00,169.71 L580.25,169.94 L580.50,170.16 L580.75,170.36 L581.00,170.53 L581.25,170.68 L581.50,170.80 L581.75,170.90 L582.00,171.00 L582.25,171.10 L582.50,171.19 L582.75,171.28 L583.00,171.36 L583.25,171.43 L583.50,171.48 L583.75,171.53 L584.00,171.57 L584.25,171.59 L584.50,171.60 L584.75,171.59 L585.00,171.57 L585.25,171.54 L585.50,171.49 L585.75,171.43 L586.00,171.37 L586.25,171.30 L586.50,171.22 L586.75,171.14 L587.00,171.06 L587.25,170.98 L587.50,170.90 L587.75,170.82 L588.00,170.72 L588.25,170.62 L588.50,170.51 L588.75,170.40 L589.00,170.28 L589.25,170.15 L589.50,170.02 L589.75,169.88 L590.00,169.74 L590.25,169.59 L590.50,169.44 L590.75,169.29 L591.00,169.14 L591.25,168.99 L591.50,168.84 L591.75,168.68 L592.00,168.52 L592.25,168.35 L592.50,168.18 L592.75,168.00 L593.00,167.82 L593.25,167.64 L593.50,167.45 L593.75,167.26 L594.00,167.06 L594.25,166.86 L594.50,166.67 L594.75,166.46 L595.00,166.26 L595.25,166.05 L595.50,165.85 L595.75,165.64 L596.00,165.43 L596.25,165.22 L596.50,165.02 L596.75,164.81 L597.00,164.60 L597.25,164.39 L597.50,164.18 L597.75,163.97 L598.00,163.76 L598.25,163.54 L598.50,163.33 L598.75,163.11 L599.00,162.89 L599.25,162.67 L599.50,162.44 L599.75,162.22 L600.00,161.99 L600.25,161.76 L600.50,161.53 L600.75,161.30 L601.00,161.06 L601.25,160.83 L601.50,160.59 L601.75,160.35 L602.00,160.11 L602.25,159.86 L602.50,159.62 L602.75,159.37 L603.00,159.13 L603.25,158.88 L603.50,158.63 L603.75,158.38 L604.00,158.13 L604.25,157.88 L604.50,157.63 L604.75,157.38 L605.00,157.13 L605.25,156.87 L605.50,156.62 L605.75,156.36 L606.00,156.11 L606.25,155.85 L606.50,155.59 L606.75,155.33 L607.00,155.07 L607.25,154.81 L607.50,154.55 L607.75,154.29 L608.00,154.03 L608.25,153.76 L608.50,153.50 L608.75,153.24 L609.00,152.97 L609.25,152.70 L609.50,152.44 L609.75,152.17 L610.00,151.90 L610.25,151.63 L610.50,151.36 L610.75,151.09 L611.00,150.82 L611.25,150.54 L611.50,150.27 L611.75,150.00 L612.00,149.72 L612.25,149.45 L612.50,149.17 L612.75,148.89 L613.00,148.62 L613.25,148.34 L613.50,148.06 L613.75,147.78 L614.00,147.50 L614.25,147.22 L614.50,146.94 L614.75,146.66 L615.00,146.38 L615.25,146.09 L615.50,145.81 L615.75,145.53 L616.00,145.24 L616.25,144.96 L616.50,144.67 L616.75,144.38 L617.00,144.10 L617.25,143.81 L617.50,143.52 L617.75,143.23 L618.00,142.94 L618.25,142.65 L618.50,142.36 L618.75,142.07 L619.00,141.78 L619.25,141.49 L619.50,141.20 L619.75,140.90 L620.00,140.61 L620.25,140.32 L620.50,140.02 L620.75,139.73 L621.00,139.43 L621.25,139.14 L621.50,138.84 L621.75,138.54 L622.00,138.25 L622.25,137.95 L622.50,137.65 L622.75,137.35 L623.00,137.05 L623.25,136.75 L623.50,136.45 L623.75,136.15 L624.00,135.85 L624.25,135.55 L624.50,135.25 L624.75,134.95 L625.00,134.65 L625.25,134.35 L625.50,134.04 L625.75,133.74 L626.00,133.44 L626.25,133.13 L626.50,132.82 L626.75,132.52 L627.00,132.21 L627.25,131.90 L627.50,131.59 L627.75,131.28 L628.00,130.97 L628.25,130.65 L628.50,130.34 L628.75,130.03 L629.00,129.71 L629.25,129.39 L629.50,129.08 L629.75,128.76 L630.00,128.44 L630.25,128.12 L630.50,127.80 L630.75,127.48 L631.00,127.15 L631.25,126.83 L631.50,126.51 L631.75,126.18 L632.00,125.86 L632.25,125.53 L632.50,125.20 L632.75,124.87 L633.00,124.54 L633.25,124.22 L633.50,123.89 L633.75,123.55 L634.00,123.22 L634.25,122.89 L634.50,122.56 L634.75,122.22 L635.00,121.89 L635.25,121.56 L635.50,121.22 L635.75,120.88 L636.00,120.55 L636.25,120.21 L636.50,119.87 L636.75,119.53 L637.00,119.20 L637.25,118.86 L637.50,118.52 L637.75,118.18 L638.00,117.83 L638.25,117.49 L638.50,117.15 L638.75,116.81 L639.00,116.47 L639.25,116.12 L639.50,115.78 L639.75,115.43 L640.00,115.09 L640.25,114.74 L640.50,114.40 L640.75,114.05 L641.00,113.71 L641.25,113.36 L641.50,113.01 L641.75,112.67 L642.00,112.32 L642.25,111.97 L642.50,111.62 L642.75,111.27 L643.00,110.92 L643.25,110.58 L643.50,110.23 L643.75,109.88 L644.00,109.53 L644.25,109.18 L644.50,108.83 L644.75,108.48 L645.00,108.12 L645.25,107.77 L645.50,107.42 L645.75,107.07 L646.00,106.72 L646.25,106.37 L646.50,106.02 L646.75,105.66 L647.00,105.31 L647.25,104.96 L647.50,104.61 L647.75,104.26 L648.00,103.90 L648.25,103.55 L648.50,103.20 L648.75,102.85 L649.00,102.49 L649.25,102.14 L649.50,101.79 L649.75,101.44 L650.00,101.08 L650.25,100.73 L650.50,100.38 L650.75,100.03 L651.00,99.67 L651.25,99.32 L651.50,98.97 L651.75,98.62 L652.00,98.27 L652.25,97.91 L652.50,97.56 L652.75,97.21 L653.00,96.86 L653.25,96.51 L653.50,96.16 L653.75,95.81 L654.00,95.46 L654.25,95.11 L654.50,94.76 L654.75,94.41 L655.00,94.06 L655.25,93.71 L655.50,93.36 L655.75,93.01 L656.00,92.66 L656.25,92.31 L656.50,91.96 L656.75,91.62 L657.00,91.27 L657.25,90.92 L657.50,90.57 L657.75,90.23 L658.00,89.88 L658.25,89.54 L658.50,89.19 L658.75,88.85 L659.00,88.50 L659.25,88.16 L659.50,87.81 L659.75,87.47 L660.00,87.13 L660.25,86.79 L660.50,86.44 L660.75,86.10 L661.00,85.76 L661.25,85.42 L661.50,85.08 L661.75,84.74 L662.00,84.41 L662.25,84.07 L662.50,83.73 L662.75,83.39 L663.00,83.06 L663.25,82.72 L663.50,82.38 L663.75,82.04 L664.00,81.71 L664.25,81.37 L664.50,81.03 L664.75,80.70 L665.00,80.36 L665.25,80.02 L665.50,79.69 L665.75,79.35 L666.00,79.02 L666.25,78.68 L666.50,78.34 L666.75,78.01 L667.00,77.67 L667.25,77.34 L667.50,77.00 L667.75,76.67 L668.00,76.33 L668.25,76.00 L668.50,75.66 L668.75,75.32 L669.00,74.99 L669.25,74.65 L669.50,74.32 L669.75,73.98 L670.00,73.65 L670.25,73.31 L670.50,72.98 L670.75,72.64 L671.00,72.31 L671.25,71.97 L671.50,71.64 L671.75,71.30 L672.00,70.97 L672.25,70.63 L672.50,70.30" stroke="#000"/><path d="M414.50,66.00 L414.75,66.31 L415.00,66.61 L415.25,66.92 L415.50,67.22 L415.75,67.53 L416.00,67.83 L416.25,68.14 L416.50,68.45 L416.75,68.75 L417.00,69.06 L417.25,69.37 L417.50,69.67 L417.75,69.98 L418.00,70.29 L418.25,70.59 L418.50,70.90 L418.75,71.21 L419.00,71.52 L419.25,71.83 L419.50,72.14 L419.75,72.45 L420.00,72.76 L420.25,73.07 L420.50,73.38 L420.75,73.69 L421.00,74.00 L421.25,74.31 L421.50,74.62 L421.75,74.93 L422.00,75.24 L422.25,75.55 L422.50,75.87 L422.75,76.18 L423.00,76.49 L423.25,76.81 L423.50,77.12 L423.75,77.43 L424.00,77.75 L424.25,78.06 L424.50,78.38 L424.75,78.69 L425.00,79.01 L425.25,79.32 L425.50,79.64 L425.75,79.96 L426.00,80.28 L426.25,80.59 L426.50,80.91 L426.75,81.23 L427.00,81.55 L427.25,81.87 L427.50,82.19 L427.75,82.51 L428.00,82.83 L428.25,83.15 L428.50,83.47 L428.75,83.79 L429.00,84.12 L429.25,84.44 L429.50,84.76 L429.75,85.09 L430.00,85.42 L430.25,85.74 L430.50,86.07 L430.75,86.40 L431.00,86.73 L431.25,87.06 L431.50,87.39 L431.75,87.72 L432.00,88.05 L432.25,88.38 L432.50,88.71 L432.75,89.05 L433.00,89.38 L433.25,89.72 L433.50,90.05 L433.75,90.39 L434.00,90.72 L434.25,91.06 L434.50,91.40 L434.75,91.74 L435.00,92.08 L435.25,92.41 L435.50,92.75 L435.75,93.09 L436.00,93.43 L436.25,93.77 L436.50,94.12 L436.75,94.46 L437.00,94.80 L437.25,95.14 L437.50,95.48 L437.75,95.83 L438.00,96.17 L438.25,96.51 L438.50,96.86 L438.75,97.20 L439.00,97.55 L439.25,97.89 L439.50,98.23 L439.75,98.58 L440.00,98.93 L440.25,99.27 L440.50,99.62 L440.75,99.96 L441.00,100.31 L441.25,100.65 L441.50,101.00 L441.75,101.35 L442.00,101.69 L442.25,102.04 L442.50,102.38 L442.75,102.73 L443.00,103.08 L443.25,103.42 L443.50,103.77 L443.75,104.12 L444.00,104.46 L444.25,104.81 L444.50,105.15 L444.75,105.50 L445.00,105.85 L445.25,106.19 L445.50,106.54 L445.75,106.88 L446.00,107.23 L446.25,107.58 L446.50,107.92 L446.75,108.27 L447.00,108.61 L447.25,108.95 L447.50,109.30 L447.75,109.64 L448.00,109.99 L448.25,110.33 L448.50,110.67 L448.75,111.02 L449.00,111.36 L449.25,111.70 L449.50,112.04 L449.75,112.38 L450.00,112.73 L450.25,113.07 L450.50,113.41 L450.75,113.75 L451.00,114.09 L451.25,114.42 L451.50,114.76 L451.75,115.10 L452.00,115.44 L452.25,115.77 L452.50,116.11 L452.75,116.45 L453.00,116.78 L453.25,117.12 L453.50,117.45 L453.75,117.79 L454.00,118.12 L454.25,118.45 L454.50,118.78 L454.75,119.11 L455.00,119.44 L455.25,119.77 L455.50,120.10 L455.75,120.43 L456.00,120.76 L456.25,121.08 L456.50,121.41 L456.75,121.74 L457.00,122.06 L457.25,122.38 L457.50,122.71 L457.75,123.03 L458.00,123.35 L458.25,123.67 L458.50,123.99 L458.75,124.31 L459.00,124.62 L459.25,124.94 L459.50,125.26 L459.75,125.57 L460.00,125.88 L460.25,126.20 L460.50,126.51 L460.75,126.82 L461.00,127.13 L461.25,127.44 L461.50,127.75 L461.75,128.06 L462.00,128.36 L462.25,128.67 L462.50,128.98 L462.75,129.29 L463.00,129.61 L463.25,129.92 L463.50,130.23 L463.75,130.54 L464.00,130.85 L464.25,131.16 L464.50,131.48 L464.75,131.79 L465.00,132.10 L465.25,132.42 L465.50,132.73 L465.75,133.04 L466.00,133.35 L466.25,133.67 L466.50,133.98 L466.75,134.29 L467.00,134.61 L467.25,134.92 L467.50,135.23 L467.75,135.54 L468.00,135.86 L468.25,136.17 L468.50,136.48 L468.75,136.79 L469.00,137.10 L469.25,137.41 L469.50,137.72 L469.75,138.03 L470.00,138.34 L470.25,138.65 L470.50,138.95 L470.75,139.26 L471.00,139.57 L471.25,139.87 L471.50,140.18 L471.75,140.48 L472.00,140.79 L472.25,141.09 L472.50,141.39 L472.75,141.69 L473.00,141.99 L473.25,142.29 L473.50,142.59 L473.75,142.89 L474.00,143.18 L474.25,143.48 L474.50,143.77 L474.75,144.07 L475.00,144.36 L475.25,144.65 L475.50,144.94 L475.75,145.23 L476.00,145.51 L476.25,145.80 L476.50,146.08 L476.75,146.37 L477.00,146.65 L477.25,146.93 L477.50,147.21 L477.75,147.48 L478.00,147.76 L478.25,148.03 L478.50,148.31 L478.75,148.58 L479.00,148.85 L479.25,149.11 L479.50,149.38 L479.75,149.64 L480.00,149.90 L480.25,150.17 L480.50,150.42 L480.75,150.68 L481.00,150.94 L481.25,151.19 L481.50,151.44 L481.75,151.69 L482.00,151.93 L482.25,152.18 L482.50,152.42 L482.75,152.66 L483.00,152.90 L483.25,153.14 L483.50,153.37 L483.75,153.60 L484.00,153.83 L484.25,154.06 L484.50,154.28 L484.75,154.51 L485.00,154.73 L485.25,154.94 L485.50,155.16 L485.75,155.37 L486.00,155.57 L486.25,155.77 L486.50,155.97 L486.75,156.16 L487.00,156.35 L487.25,156.54 L487.50,156.73 L487.75,156.91 L488.00,157.09 L488.25,157.27 L488.50,157.45 L488.75,157.62 L489.00,157.80 L489.25,157.97 L489.50,158.15 L489.75,158.32 L490.00,158.50 L490.25,158.68 L490.50,158.85 L490.75,159.03 L491.00,159.21 L491.25,159.38 L491.50,159.56 L491.75,159.74 L492.00,159.91 L492.25,160.08 L492.50,160.25 L492.75,160.42 L493.00,160.59 L493.25,160.75 L493.50,160.92 L493.75,161.07 L494.00,161.23 L494.25,161.38 L494.50,161.52 L494.75,161.66 L495.00,161.80 L495.25,161.93 L495.50,162.07 L495.75,162.20 L496.00,162.34 L496.25,162.47 L496.50,162.59 L496.75,162.72 L497.00,162.84 L497.25,162.95 L497.50,163.06 L497.75,163.16 L498.00,163.25 L498.25,163.33 L498.50,163.40 L498.75,163.47 L499.00,163.53 L499.25,163.60 L499.50,163.66 L499.75,163.73 L500.00,163.78 L500.25,163.84 L500.50,163.88 L500.75,163.93 L501.00,163.96 L501.25,163.98 L501.50,164.00 L501.75,164.00 L502.00,163.99 L502.25,163.95 L502.50,163.90 L502.75,163.84 L503.00,163.75 L503.25,163.66 L503.50,163.56 L503.75,163.45 L504.00,163.32 L504.25,163.20 L504.50,163.07 L504.75,162.93 L505.00,162.80 L505.25,162.65 L505.50,162.49 L505.75,162.30 L506.00,162.09 L506.25,161.87 L506.50,161.62 L506.75,161.36 L507.00,161.08 L507.25,160.78 L507.50,160.47 L507.75,160.14 L508.00,159.80 L508.25,159.43 L508.50,159.01 L508.75,158.55 L509.00,158.04 L509.25,157.50 L509.50,156.92 L509.75,156.31 L510.00,155.67 L510.25,154.99 L510.50,154.29 L510.75,153.55 L511.00,152.72 L511.25,151.81 L511.50,150.83 L511.75,149.80 L512.00,148.72 L512.25,147.60 L512.50,146.46 L512.75,145.31 L513.00,144.12 L513.25,142.89 L513.50,141.58 L513.75,140.17 L514.00,138.65 L514.25,136.95 L514.50,134.99 L514.75,132.83 L515.00,130.55 L515.25,128.25 L515.50,126.00 L515.75,123.75 L516.00,121.42 L516.25,119.05 L516.50,116.68 L516.75,114.35 L517.00,112.10 L517.25,109.97 L517.50,108.00 L517.75,106.11 L518.00,104.23 L518.25,102.41 L518.50,100.70 L518.75,99.16 L519.00,97.85 L519.25,96.81 L519.50,95.86 L519.75,94.95 L520.00,94.11 L520.25,93.39 L520.50,92.86 L520.75,92.55 L521.00,92.53 L521.25,92.86 L521.50,93.49 L521.75,94.38 L522.00,95.47 L522.25,96.69 L522.50,98.00 L522.75,99.73 L523.00,102.14 L523.25,105.01 L523.50,108.16 L523.75,111.37 L524.00,114.66 L524.25,118.32 L524.50,122.20 L524.75,126.15 L525.00,130.00 L525.25,133.81 L525.50,137.70 L525.75,141.62 L526.00,145.53 L526.25,149.37 L526.50,153.10 L526.75,156.66 L527.00,160.00 L527.25,163.22 L527.50,166.44 L527.75,169.61 L528.00,172.71 L528.25,175.72 L528.50,178.60 L528.75,181.32 L529.00,183.85 L529.25,186.17 L529.50,188.25 L529.75,190.08 L530.00,191.80 L530.25,193.44 L530.50,194.99 L530.75,196.46 L531.00,197.87 L531.25,199.21 L531.50,200.49 L531.75,201.73 L532.00,202.92 L532.25,204.07 L532.50,205.19 L532.75,206.29 L533.00,207.37 L533.25,208.44 L533.50,209.50 L533.75,210.55 L534.00,211.59 L534.25,212.61 L534.50,213.61 L534.75,214.58 L535.00,215.55 L535.25,216.49 L535.50,217.41 L535.75,218.32 L536.00,219.20 L536.25,220.07 L536.50,220.92 L536.75,221.76 L537.00,222.57 L537.25,223.37 L537.50,224.15 L537.75,224.91 L538.00,225.65 L538.25,226.37 L538.50,227.08 L538.75,227.77 L539.00,228.44 L539.25,229.10 L539.50,229.74 L539.75,230.36 L540.00,230.96 L540.25,231.55 L540.50,232.11 L540.75,232.66 L541.00,233.19 L541.25,233.70 L541.50,234.19 L541.75,234.67 L542.00,235.13 L542.25,235.56 L542.50,235.97 L542.75,236.33 L543.00,236.70 L543.25,237.04 L543.50,237.20 L543.75,237.04 L544.00,236.70 L544.25,236.33 L544.50,235.97 L544.75,235.56 L545.00,235.13 L545.25,234.67 L545.50,234.19 L545.75,233.70 L546.00,233.19 L546.25,232.66 L546.50,232.11 L546.75,231.55 L547.00,230.96 L547.25,230.36 L547.50,229.74 L547.75,229.10 L548.00,228.44 L548.25,227.77 L548.50,227.08 L548.75,226.37 L549.00,225.65 L549.25,224.91 L549.50,224.15 L549.75,223.37 L550.00,222.57 L550.25,221.76 L550.50,220.92 L550.75,220.07 L551.00,219.20 L551.25,218.32 L551.50,217.41 L551.75,216.49 L552.00,215.55 L552.25,214.58 L552.50,213.61 L552.75,212.61 L553.00,211.59 L553.25,210.55 L553.50,209.50 L553.75,208.44 L554.00,207.37 L554.25,206.29 L554.50,205.19 L554.75,204.07 L555.00,202.92 L555.25,201.73 L555.50,200.49 L555.75,199.21 L556.00,197.87 L556.25,196.46 L556.50,194.99 L556.75,193.44 L557.00,191.80 L557.25,190.08 L557.50,188.25 L557.75,186.17 L558.00,183.85 L558.25,181.32 L558.50,178.60 L558.75,175.72 L559.00,172.71 L559.25,169.61 L559.50,166.44 L559.75,163.22 L560.00,160.00 L560.25,156.66 L560.50,153.10 L560.75,149.37 L561.00,145.53 L561.25,141.62 L561.50,137.70 L561.75,133.81 L562.00,130.00 L562.25,126.15 L562.50,122.20 L562.75,118.32 L563.00,114.66 L563.25,111.37 L563.50,108.16 L563.75,105.01 L564.00,102.14 L564.25,99.73 L564.50,98.00 L564.75,96.69 L565.00,95.47 L565.25,94.38 L565.50,93.49 L565.75,92.86 L566.00,92.53 L566.25,92.55 L566.50,92.86 L566.75,93.39 L567.00,94.11 L567.25,94.95 L567.50,95.86 L567.75,96.81 L568.00,97.85 L568.25,99.16 L568.50,100.70 L568.75,102.41 L569.00,104.23 L569.25,106.11 L569.50,108.00 L569.75,109.97 L570.00,112.10 L570.25,114.35 L570.50,116.68 L570.75,119.05 L571.00,121.42 L571.25,123.75 L571.50,126.00 L571.75,128.25 L572.00,130.55 L572.25,132.83 L572.50,134.99 L572.75,136.95 L573.00,138.65 L573.25,140.17 L573.50,141.58 L573.75,142.89 L574.00,144.12 L574.25,145.31 L574.50,146.46 L574.75,147.60 L575.00,148.72 L575.25,149.80 L575.50,150.83 L575.75,151.81 L576.00,152.72 L576.25,153.55 L576.50,154.29 L576.75,154.99 L577.00,155.67 L577.25,156.31 L577.50,156.92 L577.75,157.50 L578.00,158.04 L578.25,158.55 L578.50,159.01 L578.75,159.43 L579.00,159.80 L579.25,160.14 L579.50,160.47 L579.75,160.78 L580.00,161.08 L580.25,161.36 L580.50,161.62 L580.75,161.87 L581.00,162.09 L581.25,162.30 L581.50,162.49 L581.75,162.65 L582.00,162.80 L582.25,162.93 L582.50,163.07 L582.75,163.20 L583.00,163.32 L583.25,163.45 L583.50,163.56 L583.75,163.66 L584.00,163.75 L584.25,163.84 L584.50,163.90 L584.75,163.95 L585.00,163.99 L585.25,164.00 L585.50,164.00 L585.75,163.98 L586.00,163.96 L586.25,163.93 L586.50,163.88 L586.75,163.84 L587.00,163.78 L587.25,163.73 L587.50,163.66 L587.75,163.60 L588.00,163.53 L588.25,163.47 L588.50,163.40 L588.75,163.33 L589.00,163.25 L589.25,163.16 L589.50,163.06 L589.75,162.95 L590.00,162.84 L590.25,162.72 L590.50,162.59 L590.75,162.47 L591.00,162.34 L591.25,162.20 L591.50,162.07 L591.75,161.93 L592.00,161.80 L592.25,161.66 L592.50,161.52 L592.75,161.38 L593.00,161.23 L593.25,161.07 L593.50,160.92 L593.75,160.75 L594.00,160.59 L594.25,160.42 L594.50,160.25 L594.75,160.08 L595.00,159.91 L595.25,159.74 L595.50,159.56 L595.75,159.38 L596.00,159.21 L596.25,159.03 L596.50,158.85 L596.75,158.68 L597.00,158.50 L597.25,158.32 L597.50,158.15 L597.75,157.97 L598.00,157.80 L598.25,157.62 L598.50,157.45 L598.75,157.27 L599.00,157.09 L599.25,156.91 L599.50,156.73 L599.75,156.54 L600.00,156.35 L600.25,156.16 L600.50,155.97 L600.75,155.77 L601.00,155.57 L601.25,155.37 L601.50,155.16 L601.75,154.94 L602.00,154.73 L602.25,154.51 L602.50,154.28 L602.75,154.06 L603.00,153.83 L603.25,153.60 L603.50,153.37 L603.75,153.14 L604.00,152.90 L604.25,152.66 L604.50,152.42 L604.75,152.18 L605.00,151.93 L605.25,151.69 L605.50,151.44 L605.75,151.19 L606.00,150.94 L606.25,150.68 L606.50,150.42 L606.75,150.17 L607.00,149.90 L607.25,149.64 L607.50,149.38 L607.75,149.11 L608.00,148.85 L608.25,148.58 L608.50,148.31 L608.75,148.03 L609.00,147.76 L609.25,147.48 L609.50,147.21 L609.75,146.93 L610.00,146.65 L610.25,146.37 L610.50,146.08 L610.75,145.80 L611.00,145.51 L611.25,145.23 L611.50,144.94 L611.75,144.65 L612.00,144.36 L612.25,144.07 L612.50,143.77 L612.75,143.48 L613.00,143.18 L613.25,142.89 L613.50,142.59 L613.75,142.29 L614.00,141.99 L614.25,141.69 L614.50,141.39 L614.75,141.09 L615.00,140.79 L615.25,140.48 L615.50,140.18 L615.75,139.87 L616.00,139.57 L616.25,139.26 L616.50,138.95 L616.75,138.65 L617.00,138.34 L617.25,138.03 L617.50,137.72 L617.75,137.41 L618.00,137.10 L618.25,136.79 L618.50,136.48 L618.75,136.17 L619.00,135.86 L619.25,135.54 L619.50,135.23 L619.75,134.92 L620.00,134.61 L620.25,134.29 L620.50,133.98 L620.75,133.67 L621.00,133.35 L621.25,133.04 L621.50,132.73 L621.75,132.42 L622.00,132.10 L622.25,131.79 L622.50,131.48 L622.75,131.16 L623.00,130.85 L623.25,130.54 L623.50,130.23 L623.75,129.92 L624.00,129.61 L624.25,129.29 L624.50,128.98 L624.75,128.67 L625.00,128.36 L625.25,128.06 L625.50,127.75 L625.75,127.44 L626.00,127.13 L626.25,126.82 L626.50,126.51 L626.75,126.20 L627.00,125.88 L627.25,125.57 L627.50,125.26 L627.75,124.94 L628.00,124.62 L628.25,124.31 L628.50,123.99 L628.75,123.67 L629.00,123.35 L629.25,123.03 L629.50,122.71 L629.75,122.38 L630.00,122.06 L630.25,121.74 L630.50,121.41 L630.75,121.08 L631.00,120.76 L631.25,120.43 L631.50,120.10 L631.75,119.77 L632.00,119.44 L632.25,119.11 L632.50,118.78 L632.75,118.45 L633.00,118.12 L633.25,117.79 L633.50,117.45 L633.75,117.12 L634.00,116.78 L634.25,116.45 L634.50,116.11 L634.75,115.77 L635.00,115.44 L635.25,115.10 L635.50,114.76 L635.75,114.42 L636.00,114.09 L636.25,113.75 L636.50,113.41 L636.75,113.07 L637.00,112.73 L637.25,112.38 L637.50,112.04 L637.75,111.70 L638.00,111.36 L638.25,111.02 L638.50,110.67 L638.75,110.33 L639.00,109.99 L639.25,109.64 L639.50,109.30 L639.75,108.95 L640.00,108.61 L640.25,108.27 L640.50,107.92 L640.75,107.58 L641.00,107.23 L641.25,106.88 L641.50,106.54 L641.75,106.19 L642.00,105.85 L642.25,105.50 L642.50,105.15 L642.75,104.81 L643.00,104.46 L643.25,104.12 L643.50,103.77 L643.75,103.42 L644.00,103.08 L644.25,102.73 L644.50,102.38 L644.75,102.04 L645.00,101.69 L645.25,101.35 L645.50,101.00 L645.75,100.65 L646.00,100.31 L646.25,99.96 L646.50,99.62 L646.75,99.27 L647.00,98.93 L647.25,98.58 L647.50,98.23 L647.75,97.89 L648.00,97.55 L648.25,97.20 L648.50,96.86 L648.75,96.51 L649.00,96.17 L649.25,95.83 L649.50,95.48 L649.75,95.14 L650.00,94.80 L650.25,94.46 L650.50,94.12 L650.75,93.77 L651.00,93.43 L651.25,93.09 L651.50,92.75 L651.75,92.41 L652.00,92.08 L652.25,91.74 L652.50,91.40 L652.75,91.06 L653.00,90.72 L653.25,90.39 L653.50,90.05 L653.75,89.72 L654.00,89.38 L654.25,89.05 L654.50,88.71 L654.75,88.38 L655.00,88.05 L655.25,87.72 L655.50,87.39 L655.75,87.06 L656.00,86.73 L656.25,86.40 L656.50,86.07 L656.75,85.74 L657.00,85.42 L657.25,85.09 L657.50,84.76 L657.75,84.44 L658.00,84.12 L658.25,83.79 L658.50,83.47 L658.75,83.15 L659.00,82.83 L659.25,82.51 L659.50,82.19 L659.75,81.87 L660.00,81.55 L660.25,81.23 L660.50,80.91 L660.75,80.59 L661.00,80.28 L661.25,79.96 L661.50,79.64 L661.75,79.32 L662.00,79.01 L662.25,78.69 L662.50,78.38 L662.75,78.06 L663.00,77.75 L663.25,77.43 L663.50,77.12 L663.75,76.81 L664.00,76.49 L664.25,76.18 L664.50,75.87 L664.75,75.55 L665.00,75.24 L665.25,74.93 L665.50,74.62 L665.75,74.31 L666.00,74.00 L666.25,73.69 L666.50,73.38 L666.75,73.07 L667.00,72.76 L667.25,72.45 L667.50,72.14 L667.75,71.83 L668.00,71.52 L668.25,71.21 L668.50,70.90 L668.75,70.59 L669.00,70.29 L669.25,69.98 L669.50,69.67 L669.75,69.37 L670.00,69.06 L670.25,68.75 L670.50,68.45 L670.75,68.14 L671.00,67.83 L671.25,67.53 L671.50,67.22 L671.75,66.92 L672.00,66.61 L672.25,66.31 L672.50,66.00" stroke="#ff0000" stroke-dasharray="10.3 2.2 5.4 2.1"/><path d="M414.50,54.30 L414.75,54.59 L415.00,54.87 L415.25,55.16 L415.50,55.44 L415.75,55.73 L416.00,56.01 L416.25,56.30 L416.50,56.59 L416.75,56.87 L417.00,57.16 L417.25,57.45 L417.50,57.74 L417.75,58.02 L418.00,58.31 L418.25,58.60 L418.50,58.89 L418.75,59.18 L419.00,59.47 L419.25,59.76 L419.50,60.05 L419.75,60.33 L420.00,60.62 L420.25,60.91 L420.50,61.20 L420.75,61.50 L421.00,61.79 L421.25,62.08 L421.50,62.37 L421.75,62.66 L422.00,62.95 L422.25,63.24 L422.50,63.53 L422.75,63.83 L423.00,64.12 L423.25,64.41 L423.50,64.70 L423.75,65.00 L424.00,65.29 L424.25,65.58 L424.50,65.88 L424.75,66.17 L425.00,66.46 L425.25,66.76 L425.50,67.05 L425.75,67.35 L426.00,67.64 L426.25,67.94 L426.50,68.23 L426.75,68.53 L427.00,68.82 L427.25,69.12 L427.50,69.41 L427.75,69.71 L428.00,70.01 L428.25,70.30 L428.50,70.60 L428.75,70.90 L429.00,71.19 L429.25,71.49 L429.50,71.79 L429.75,72.09 L430.00,72.38 L430.25,72.68 L430.50,72.98 L430.75,73.28 L431.00,73.58 L431.25,73.88 L431.50,74.17 L431.75,74.47 L432.00,74.77 L432.25,75.07 L432.50,75.37 L432.75,75.67 L433.00,75.97 L433.25,76.27 L433.50,76.57 L433.75,76.88 L434.00,77.18 L434.25,77.48 L434.50,77.78 L434.75,78.08 L435.00,78.38 L435.25,78.68 L435.50,78.99 L435.75,79.29 L436.00,79.59 L436.25,79.89 L436.50,80.20 L436.75,80.50 L437.00,80.80 L437.25,81.11 L437.50,81.41 L437.75,81.71 L438.00,82.02 L438.25,82.32 L438.50,82.63 L438.75,82.93 L439.00,83.23 L439.25,83.54 L439.50,83.84 L439.75,84.15 L440.00,84.46 L440.25,84.76 L440.50,85.07 L440.75,85.38 L441.00,85.69 L441.25,86.00 L441.50,86.31 L441.75,86.62 L442.00,86.94 L442.25,87.25 L442.50,87.56 L442.75,87.88 L443.00,88.19 L443.25,88.51 L443.50,88.82 L443.75,89.14 L444.00,89.46 L444.25,89.77 L444.50,90.09 L444.75,90.41 L445.00,90.73 L445.25,91.04 L445.50,91.36 L445.75,91.68 L446.00,92.00 L446.25,92.32 L446.50,92.64 L446.75,92.96 L447.00,93.28 L447.25,93.60 L447.50,93.92 L447.75,94.24 L448.00,94.56 L448.25,94.89 L448.50,95.21 L448.75,95.53 L449.00,95.85 L449.25,96.17 L449.50,96.49 L449.75,96.81 L450.00,97.14 L450.25,97.46 L450.50,97.78 L450.75,98.10 L451.00,98.42 L451.25,98.74 L451.50,99.06 L451.75,99.38 L452.00,99.70 L452.25,100.02 L452.50,100.34 L452.75,100.66 L453.00,100.98 L453.25,101.30 L453.50,101.62 L453.75,101.94 L454.00,102.26 L454.25,102.58 L454.50,102.89 L454.75,103.21 L455.00,103.53 L455.25,103.84 L455.50,104.16 L455.75,104.47 L456.00,104.79 L456.25,105.10 L456.50,105.42 L456.75,105.73 L457.00,106.04 L457.25,106.35 L457.50,106.66 L457.75,106.97 L458.00,107.28 L458.25,107.59 L458.50,107.90 L458.75,108.21 L459.00,108.52 L459.25,108.82 L459.50,109.13 L459.75,109.43 L460.00,109.74 L460.25,110.04 L460.50,110.34 L460.75,110.64 L461.00,110.94 L461.25,111.24 L461.50,111.54 L461.75,111.84 L462.00,112.14 L462.25,112.44 L462.50,112.74 L462.75,113.03 L463.00,113.33 L463.25,113.63 L463.50,113.93 L463.75,114.23 L464.00,114.53 L464.25,114.83 L464.50,115.12 L464.75,115.42 L465.00,115.71 L465.25,116.01 L465.50,116.30 L465.75,116.59 L466.00,116.88 L466.25,117.17 L466.50,117.46 L466.75,117.75 L467.00,118.03 L467.25,118.32 L467.50,118.60 L467.75,118.88 L468.00,119.16 L468.25,119.43 L468.50,119.71 L468.75,119.98 L469.00,120.25 L469.25,120.51 L469.50,120.78 L469.75,121.04 L470.00,121.30 L470.25,121.56 L470.50,121.81 L470.75,122.07 L471.00,122.32 L471.25,122.57 L471.50,122.82 L471.75,123.07 L472.00,123.31 L472.25,123.56 L472.50,123.80 L472.75,124.05 L473.00,124.29 L473.25,124.53 L473.50,124.77 L473.75,125.00 L474.00,125.24 L474.25,125.47 L474.50,125.71 L474.75,125.94 L475.00,126.17 L475.25,126.41 L475.50,126.64 L475.75,126.87 L476.00,127.09 L476.25,127.32 L476.50,127.55 L476.75,127.78 L477.00,128.00 L477.25,128.23 L477.50,128.45 L477.75,128.68 L478.00,128.90 L478.25,129.12 L478.50,129.35 L478.75,129.57 L479.00,129.79 L479.25,130.01 L479.50,130.23 L479.75,130.45 L480.00,130.68 L480.25,130.90 L480.50,131.12 L480.75,131.34 L481.00,131.56 L481.25,131.78 L481.50,132.00 L481.75,132.22 L482.00,132.44 L482.25,132.66 L482.50,132.88 L482.75,133.11 L483.00,133.33 L483.25,133.55 L483.50,133.77 L483.75,134.00 L484.00,134.22 L484.25,134.44 L484.50,134.67 L484.75,134.89 L485.00,135.12 L485.25,135.35 L485.50,135.58 L485.75,135.81 L486.00,136.05 L486.25,136.29 L486.50,136.53 L486.75,136.77 L487.00,137.01 L487.25,137.25 L487.50,137.49 L487.75,137.73 L488.00,137.96 L488.25,138.19 L488.50,138.42 L488.75,138.63 L489.00,138.84 L489.25,139.05 L489.50,139.24 L489.75,139.43 L490.00,139.60 L490.25,139.77 L490.50,139.93 L490.75,140.10 L491.00,140.26 L491.25,140.42 L491.50,140.58 L491.75,140.73 L492.00,140.88 L492.25,141.03 L492.50,141.17 L492.75,141.31 L493.00,141.44 L493.25,141.57 L493.50,141.69 L493.75,141.81 L494.00,141.92 L494.25,142.03 L494.50,142.12 L494.75,142.22 L495.00,142.30 L495.25,142.38 L495.50,142.46 L495.75,142.54 L496.00,142.62 L496.25,142.70 L496.50,142.78 L496.75,142.86 L497.00,142.93 L497.25,143.00 L497.50,143.07 L497.75,143.13 L498.00,143.19 L498.25,143.24 L498.50,143.28 L498.75,143.32 L499.00,143.35 L499.25,143.38 L499.50,143.39 L499.75,143.40 L500.00,143.40 L500.25,143.38 L500.50,143.36 L500.75,143.33 L501.00,143.28 L501.25,143.23 L501.50,143.17 L501.75,143.11 L502.00,143.04 L502.25,142.96 L502.50,142.88 L502.75,142.79 L503.00,142.70 L503.25,142.60 L503.50,142.50 L503.75,142.40 L504.00,142.30 L504.25,142.18 L504.50,142.04 L504.75,141.88 L505.00,141.70 L505.25,141.50 L505.50,141.28 L505.75,141.05 L506.00,140.80 L506.25,140.54 L506.50,140.27 L506.75,139.99 L507.00,139.70 L507.25,139.41 L507.50,139.12 L507.75,138.82 L508.00,138.51 L508.25,138.18 L508.50,137.83 L508.75,137.47 L509.00,137.09 L509.25,136.69 L509.50,136.27 L509.75,135.83 L510.00,135.36 L510.25,134.88 L510.50,134.37 L510.75,133.83 L511.00,133.26 L511.25,132.60 L511.50,131.85 L511.75,131.04 L512.00,130.19 L512.25,129.33 L512.50,128.50 L512.75,127.66 L513.00,126.78 L513.25,125.87 L513.50,124.94 L513.75,124.01 L514.00,123.08 L514.25,122.17 L514.50,121.28 L514.75,120.43 L515.00,119.64 L515.25,118.91 L515.50,118.24 L515.75,117.59 L516.00,116.95 L516.25,116.32 L516.50,115.71 L516.75,115.14 L517.00,114.61 L517.25,114.12 L517.50,113.68 L517.75,113.31 L518.00,113.00 L518.25,112.73 L518.50,112.46 L518.75,112.21 L519.00,111.97 L519.25,111.76 L519.50,111.58 L519.75,111.44 L520.00,111.34 L520.25,111.30 L520.50,111.32 L520.75,111.40 L521.00,111.53 L521.25,111.71 L521.50,111.92 L521.75,112.16 L522.00,112.43 L522.25,112.71 L522.50,113.00 L522.75,113.32 L523.00,113.70 L523.25,114.15 L523.50,114.66 L523.75,115.24 L524.00,115.89 L524.25,116.62 L524.50,117.42 L524.75,118.31 L525.00,119.45 L525.25,121.07 L525.50,123.06 L525.75,125.24 L526.00,127.47 L526.25,129.60 L526.50,131.60 L526.75,133.66 L527.00,135.76 L527.25,137.89 L527.50,140.01 L527.75,142.11 L528.00,144.17 L528.25,146.16 L528.50,148.06 L528.75,149.85 L529.00,151.58 L529.25,153.29 L529.50,154.98 L529.75,156.63 L530.00,158.26 L530.25,159.85 L530.50,161.41 L530.75,162.94 L531.00,164.43 L531.25,165.88 L531.50,167.29 L531.75,168.66 L532.00,169.99 L532.25,171.28 L532.50,172.52 L532.75,173.71 L533.00,174.87 L533.25,176.00 L533.50,177.10 L533.75,178.18 L534.00,179.22 L534.25,180.24 L534.50,181.24 L534.75,182.22 L535.00,183.17 L535.25,184.11 L535.50,185.03 L535.75,185.94 L536.00,186.83 L536.25,187.70 L536.50,188.57 L536.75,189.43 L537.00,190.28 L537.25,191.11 L537.50,191.93 L537.75,192.73 L538.00,193.51 L538.25,194.28 L538.50,195.04 L538.75,195.77 L539.00,196.50 L539.25,197.20 L539.50,197.89 L539.75,198.57 L540.00,199.24 L540.25,199.91 L540.50,200.59 L540.75,201.24 L541.00,201.87 L541.25,202.46 L541.50,202.99 L541.75,203.46 L542.00,203.85 L542.25,204.24 L542.50,204.62 L542.75,204.97 L543.00,205.24 L543.25,205.43 L543.50,205.50 L543.75,205.43 L544.00,205.24 L544.25,204.97 L544.50,204.62 L544.75,204.24 L545.00,203.85 L545.25,203.46 L545.50,202.99 L545.75,202.46 L546.00,201.87 L546.25,201.24 L546.50,200.59 L546.75,199.91 L547.00,199.24 L547.25,198.57 L547.50,197.89 L547.75,197.20 L548.00,196.50 L548.25,195.77 L548.50,195.04 L548.75,194.28 L549.00,193.51 L549.25,192.73 L549.50,191.93 L549.75,191.11 L550.00,190.28 L550.25,189.43 L550.50,188.57 L550.75,187.70 L551.00,186.83 L551.25,185.94 L551.50,185.03 L551.75,184.11 L552.00,183.17 L552.25,182.22 L552.50,181.24 L552.75,180.24 L553.00,179.22 L553.25,178.18 L553.50,177.10 L553.75,176.00 L554.00,174.87 L554.25,173.71 L554.50,172.52 L554.75,171.28 L555.00,169.99 L555.25,168.66 L555.50,167.29 L555.75,165.88 L556.00,164.43 L556.25,162.94 L556.50,161.41 L556.75,159.85 L557.00,158.26 L557.25,156.63 L557.50,154.98 L557.75,153.29 L558.00,151.58 L558.25,149.85 L558.50,148.06 L558.75,146.16 L559.00,144.17 L559.25,142.11 L559.50,140.01 L559.75,137.89 L560.00,135.76 L560.25,133.66 L560.50,131.60 L560.75,129.60 L561.00,127.47 L561.25,125.24 L561.50,123.06 L561.75,121.07 L562.00,119.45 L562.25,118.31 L562.50,117.42 L562.75,116.62 L563.00,115.89 L563.25,115.24 L563.50,114.66 L563.75,114.15 L564.00,113.70 L564.25,113.32 L564.50,113.00 L564.75,112.71 L565.00,112.43 L565.25,112.16 L565.50,111.92 L565.75,111.71 L566.00,111.53 L566.25,111.40 L566.50,111.32 L566.75,111.30 L567.00,111.34 L567.25,111.44 L567.50,111.58 L567.75,111.76 L568.00,111.97 L568.25,112.21 L568.50,112.46 L568.75,112.73 L569.00,113.00 L569.25,113.31 L569.50,113.68 L569.75,114.12 L570.00,114.61 L570.25,115.14 L570.50,115.71 L570.75,116.32 L571.00,116.95 L571.25,117.59 L571.50,118.24 L571.75,118.91 L572.00,119.64 L572.25,120.43 L572.50,121.28 L572.75,122.17 L573.00,123.08 L573.25,124.01 L573.50,124.94 L573.75,125.87 L574.00,126.78 L574.25,127.66 L574.50,128.50 L574.75,129.33 L575.00,130.19 L575.25,131.04 L575.50,131.85 L575.75,132.60 L576.00,133.26 L576.25,133.83 L576.50,134.37 L576.75,134.88 L577.00,135.36 L577.25,135.83 L577.50,136.27 L577.75,136.69 L578.00,137.09 L578.25,137.47 L578.50,137.83 L578.75,138.18 L579.00,138.51 L579.25,138.82 L579.50,139.12 L579.75,139.41 L580.00,139.70 L580.25,139.99 L580.50,140.27 L580.75,140.54 L581.00,140.80 L581.25,141.05 L581.50,141.28 L581.75,141.50 L582.00,141.70 L582.25,141.88 L582.50,142.04 L582.75,142.18 L583.00,142.30 L583.25,142.40 L583.50,142.50 L583.75,142.60 L584.00,142.70 L584.25,142.79 L584.50,142.88 L584.75,142.96 L585.00,143.04 L585.25,143.11 L585.50,143.17 L585.75,143.23 L586.00,143.28 L586.25,143.33 L586.50,143.36 L586.75,143.38 L587.00,143.40 L587.25,143.40 L587.50,143.39 L587.75,143.38 L588.00,143.35 L588.25,143.32 L588.50,143.28 L588.75,143.24 L589.00,143.19 L589.25,143.13 L589.50,143.07 L589.75,143.00 L590.00,142.93 L590.25,142.86 L590.50,142.78 L590.75,142.70 L591.00,142.62 L591.25,142.54 L591.50,142.46 L591.75,142.38 L592.00,142.30 L592.25,142.22 L592.50,142.12 L592.75,142.03 L593.00,141.92 L593.25,141.81 L593.50,141.69 L593.75,141.57 L594.00,141.44 L594.25,141.31 L594.50,141.17 L594.75,141.03 L595.00,140.88 L595.25,140.73 L595.50,140.58 L595.75,140.42 L596.00,140.26 L596.25,140.10 L596.50,139.93 L596.75,139.77 L597.00,139.60 L597.25,139.43 L597.50,139.24 L597.75,139.05 L598.00,138.84 L598.25,138.63 L598.50,138.42 L598.75,138.19 L599.00,137.96 L599.25,137.73 L599.50,137.49 L599.75,137.25 L600.00,137.01 L600.25,136.77 L600.50,136.53 L600.75,136.29 L601.00,136.05 L601.25,135.81 L601.50,135.58 L601.75,135.35 L602.00,135.12 L602.25,134.89 L602.50,134.67 L602.75,134.44 L603.00,134.22 L603.25,134.00 L603.50,133.77 L603.75,133.55 L604.00,133.33 L604.25,133.11 L604.50,132.88 L604.75,132.66 L605.00,132.44 L605.25,132.22 L605.50,132.00 L605.75,131.78 L606.00,131.56 L606.25,131.34 L606.50,131.12 L606.75,130.90 L607.00,130.68 L607.25,130.45 L607.50,130.23 L607.75,130.01 L608.00,129.79 L608.25,129.57 L608.50,129.35 L608.75,129.12 L609.00,128.90 L609.25,128.68 L609.50,128.45 L609.75,128.23 L610.00,128.00 L610.25,127.78 L610.50,127.55 L610.75,127.32 L611.00,127.09 L611.25,126.87 L611.50,126.64 L611.75,126.41 L612.00,126.17 L612.25,125.94 L612.50,125.71 L612.75,125.47 L613.00,125.24 L613.25,125.00 L613.50,124.77 L613.75,124.53 L614.00,124.29 L614.25,124.05 L614.50,123.80 L614.75,123.56 L615.00,123.31 L615.25,123.07 L615.50,122.82 L615.75,122.57 L616.00,122.32 L616.25,122.07 L616.50,121.81 L616.75,121.56 L617.00,121.30 L617.25,121.04 L617.50,120.78 L617.75,120.51 L618.00,120.25 L618.25,119.98 L618.50,119.71 L618.75,119.43 L619.00,119.16 L619.25,118.88 L619.50,118.60 L619.75,118.32 L620.00,118.03 L620.25,117.75 L620.50,117.46 L620.75,117.17 L621.00,116.88 L621.25,116.59 L621.50,116.30 L621.75,116.01 L622.00,115.71 L622.25,115.42 L622.50,115.12 L622.75,114.83 L623.00,114.53 L623.25,114.23 L623.50,113.93 L623.75,113.63 L624.00,113.33 L624.25,113.03 L624.50,112.74 L624.75,112.44 L625.00,112.14 L625.25,111.84 L625.50,111.54 L625.75,111.24 L626.00,110.94 L626.25,110.64 L626.50,110.34 L626.75,110.04 L627.00,109.74 L627.25,109.43 L627.50,109.13 L627.75,108.82 L628.00,108.52 L628.25,108.21 L628.50,107.90 L628.75,107.59 L629.00,107.28 L629.25,106.97 L629.50,106.66 L629.75,106.35 L630.00,106.04 L630.25,105.73 L630.50,105.42 L630.75,105.10 L631.00,104.79 L631.25,104.47 L631.50,104.16 L631.75,103.84 L632.00,103.53 L632.25,103.21 L632.50,102.89 L632.75,102.58 L633.00,102.26 L633.25,101.94 L633.50,101.62 L633.75,101.30 L634.00,100.98 L634.25,100.66 L634.50,100.34 L634.75,100.02 L635.00,99.70 L635.25,99.38 L635.50,99.06 L635.75,98.74 L636.00,98.42 L636.25,98.10 L636.50,97.78 L636.75,97.46 L637.00,97.14 L637.25,96.81 L637.50,96.49 L637.75,96.17 L638.00,95.85 L638.25,95.53 L638.50,95.21 L638.75,94.89 L639.00,94.56 L639.25,94.24 L639.50,93.92 L639.75,93.60 L640.00,93.28 L640.25,92.96 L640.50,92.64 L640.75,92.32 L641.00,92.00 L641.25,91.68 L641.50,91.36 L641.75,91.04 L642.00,90.73 L642.25,90.41 L642.50,90.09 L642.75,89.77 L643.00,89.46 L643.25,89.14 L643.50,88.82 L643.75,88.51 L644.00,88.19 L644.25,87.88 L644.50,87.56 L644.75,87.25 L645.00,86.94 L645.25,86.62 L645.50,86.31 L645.75,86.00 L646.00,85.69 L646.25,85.38 L646.50,85.07 L646.75,84.76 L647.00,84.46 L647.25,84.15 L647.50,83.84 L647.75,83.54 L648.00,83.23 L648.25,82.93 L648.50,82.63 L648.75,82.32 L649.00,82.02 L649.25,81.71 L649.50,81.41 L649.75,81.11 L650.00,80.80 L650.25,80.50 L650.50,80.20 L650.75,79.89 L651.00,79.59 L651.25,79.29 L651.50,78.99 L651.75,78.68 L652.00,78.38 L652.25,78.08 L652.50,77.78 L652.75,77.48 L653.00,77.18 L653.25,76.88 L653.50,76.57 L653.75,76.27 L654.00,75.97 L654.25,75.67 L654.50,75.37 L654.75,75.07 L655.00,74.77 L655.25,74.47 L655.50,74.17 L655.75,73.88 L656.00,73.58 L656.25,73.28 L656.50,72.98 L656.75,72.68 L657.00,72.38 L657.25,72.09 L657.50,71.79 L657.75,71.49 L658.00,71.19 L658.25,70.90 L658.50,70.60 L658.75,70.30 L659.00,70.01 L659.25,69.71 L659.50,69.41 L659.75,69.12 L660.00,68.82 L660.25,68.53 L660.50,68.23 L660.75,67.94 L661.00,67.64 L661.25,67.35 L661.50,67.05 L661.75,66.76 L662.00,66.46 L662.25,66.17 L662.50,65.88 L662.75,65.58 L663.00,65.29 L663.25,65.00 L663.50,64.70 L663.75,64.41 L664.00,64.12 L664.25,63.83 L664.50,63.53 L664.75,63.24 L665.00,62.95 L665.25,62.66 L665.50,62.37 L665.75,62.08 L666.00,61.79 L666.25,61.50 L666.50,61.20 L666.75,60.91 L667.00,60.62 L667.25,60.33 L667.50,60.05 L667.75,59.76 L668.00,59.47 L668.25,59.18 L668.50,58.89 L668.75,58.60 L669.00,58.31 L669.25,58.02 L669.50,57.74 L669.75,57.45 L670.00,57.16 L670.25,56.87 L670.50,56.59 L670.75,56.30 L671.00,56.01 L671.25,55.73 L671.50,55.44 L671.75,55.16 L672.00,54.87 L672.25,54.59 L672.50,54.30" stroke="#0000ff" stroke-dasharray="2.6 2.46"/><path d="M414.50,33.80 L414.75,34.11 L415.00,34.42 L415.25,34.73 L415.50,35.05 L415.75,35.36 L416.00,35.67 L416.25,35.98 L416.50,36.28 L416.75,36.59 L417.00,36.90 L417.25,37.21 L417.50,37.52 L417.75,37.82 L418.00,38.13 L418.25,38.44 L418.50,38.74 L418.75,39.05 L419.00,39.35 L419.25,39.66 L419.50,39.96 L419.75,40.26 L420.00,40.57 L420.25,40.87 L420.50,41.17 L420.75,41.47 L421.00,41.78 L421.25,42.08 L421.50,42.38 L421.75,42.68 L422.00,42.98 L422.25,43.28 L422.50,43.58 L422.75,43.88 L423.00,44.17 L423.25,44.47 L423.50,44.77 L423.75,45.07 L424.00,45.36 L424.25,45.66 L424.50,45.96 L424.75,46.25 L425.00,46.55 L425.25,46.84 L425.50,47.14 L425.75,47.43 L426.00,47.72 L426.25,48.02 L426.50,48.31 L426.75,48.60 L427.00,48.89 L427.25,49.19 L427.50,49.48 L427.75,49.77 L428.00,50.06 L428.25,50.35 L428.50,50.64 L428.75,50.93 L429.00,51.22 L429.25,51.51 L429.50,51.80 L429.75,52.08 L430.00,52.37 L430.25,52.66 L430.50,52.95 L430.75,53.23 L431.00,53.52 L431.25,53.80 L431.50,54.09 L431.75,54.37 L432.00,54.66 L432.25,54.94 L432.50,55.23 L432.75,55.51 L433.00,55.79 L433.25,56.08 L433.50,56.36 L433.75,56.64 L434.00,56.92 L434.25,57.21 L434.50,57.49 L434.75,57.77 L435.00,58.05 L435.25,58.33 L435.50,58.61 L435.75,58.89 L436.00,59.17 L436.25,59.45 L436.50,59.73 L436.75,60.00 L437.00,60.28 L437.25,60.56 L437.50,60.84 L437.75,61.11 L438.00,61.39 L438.25,61.67 L438.50,61.94 L438.75,62.22 L439.00,62.49 L439.25,62.77 L439.50,63.04 L439.75,63.32 L440.00,63.59 L440.25,63.86 L440.50,64.14 L440.75,64.41 L441.00,64.68 L441.25,64.95 L441.50,65.23 L441.75,65.50 L442.00,65.77 L442.25,66.04 L442.50,66.31 L442.75,66.58 L443.00,66.85 L443.25,67.12 L443.50,67.39 L443.75,67.66 L444.00,67.93 L444.25,68.20 L444.50,68.46 L444.75,68.73 L445.00,69.00 L445.25,69.27 L445.50,69.53 L445.75,69.80 L446.00,70.07 L446.25,70.33 L446.50,70.60 L446.75,70.86 L447.00,71.13 L447.25,71.40 L447.50,71.66 L447.75,71.92 L448.00,72.19 L448.25,72.45 L448.50,72.72 L448.75,72.98 L449.00,73.24 L449.25,73.50 L449.50,73.77 L449.75,74.03 L450.00,74.29 L450.25,74.55 L450.50,74.81 L450.75,75.07 L451.00,75.33 L451.25,75.59 L451.50,75.85 L451.75,76.11 L452.00,76.37 L452.25,76.63 L452.50,76.89 L452.75,77.15 L453.00,77.41 L453.25,77.67 L453.50,77.93 L453.75,78.18 L454.00,78.44 L454.25,78.70 L454.50,78.95 L454.75,79.21 L455.00,79.47 L455.25,79.72 L455.50,79.98 L455.75,80.23 L456.00,80.49 L456.25,80.75 L456.50,81.00 L456.75,81.25 L457.00,81.51 L457.25,81.76 L457.50,82.02 L457.75,82.27 L458.00,82.52 L458.25,82.78 L458.50,83.03 L458.75,83.28 L459.00,83.54 L459.25,83.79 L459.50,84.04 L459.75,84.29 L460.00,84.54 L460.25,84.79 L460.50,85.04 L460.75,85.29 L461.00,85.54 L461.25,85.79 L461.50,86.04 L461.75,86.28 L462.00,86.53 L462.25,86.78 L462.50,87.02 L462.75,87.27 L463.00,87.51 L463.25,87.76 L463.50,88.00 L463.75,88.24 L464.00,88.48 L464.25,88.73 L464.50,88.97 L464.75,89.21 L465.00,89.44 L465.25,89.68 L465.50,89.92 L465.75,90.16 L466.00,90.39 L466.25,90.63 L466.50,90.86 L466.75,91.09 L467.00,91.32 L467.25,91.55 L467.50,91.78 L467.75,92.01 L468.00,92.24 L468.25,92.47 L468.50,92.69 L468.75,92.92 L469.00,93.14 L469.25,93.37 L469.50,93.59 L469.75,93.81 L470.00,94.03 L470.25,94.24 L470.50,94.46 L470.75,94.68 L471.00,94.89 L471.25,95.10 L471.50,95.32 L471.75,95.53 L472.00,95.74 L472.25,95.95 L472.50,96.15 L472.75,96.36 L473.00,96.57 L473.25,96.77 L473.50,96.98 L473.75,97.19 L474.00,97.39 L474.25,97.59 L474.50,97.80 L474.75,98.00 L475.00,98.20 L475.25,98.40 L475.50,98.60 L475.75,98.80 L476.00,98.99 L476.25,99.19 L476.50,99.39 L476.75,99.58 L477.00,99.78 L477.25,99.97 L477.50,100.17 L477.75,100.36 L478.00,100.55 L478.25,100.74 L478.50,100.93 L478.75,101.12 L479.00,101.31 L479.25,101.50 L479.50,101.68 L479.75,101.87 L480.00,102.05 L480.25,102.24 L480.50,102.42 L480.75,102.60 L481.00,102.78 L481.25,102.97 L481.50,103.15 L481.75,103.32 L482.00,103.50 L482.25,103.68 L482.50,103.86 L482.75,104.03 L483.00,104.21 L483.25,104.38 L483.50,104.55 L483.75,104.72 L484.00,104.89 L484.25,105.06 L484.50,105.23 L484.75,105.40 L485.00,105.57 L485.25,105.73 L485.50,105.90 L485.75,106.07 L486.00,106.24 L486.25,106.42 L486.50,106.59 L486.75,106.77 L487.00,106.94 L487.25,107.12 L487.50,107.29 L487.75,107.47 L488.00,107.64 L488.25,107.81 L488.50,107.98 L488.75,108.14 L489.00,108.30 L489.25,108.46 L489.50,108.61 L489.75,108.76 L490.00,108.90 L490.25,109.04 L490.50,109.17 L490.75,109.29 L491.00,109.41 L491.25,109.52 L491.50,109.62 L491.75,109.72 L492.00,109.80 L492.25,109.88 L492.50,109.96 L492.75,110.04 L493.00,110.12 L493.25,110.19 L493.50,110.27 L493.75,110.35 L494.00,110.42 L494.25,110.50 L494.50,110.57 L494.75,110.64 L495.00,110.71 L495.25,110.78 L495.50,110.84 L495.75,110.91 L496.00,110.97 L496.25,111.03 L496.50,111.08 L496.75,111.14 L497.00,111.19 L497.25,111.23 L497.50,111.28 L497.75,111.32 L498.00,111.35 L498.25,111.39 L498.50,111.42 L498.75,111.44 L499.00,111.46 L499.25,111.48 L499.50,111.49 L499.75,111.50 L500.00,111.50 L500.25,111.50 L500.50,111.48 L500.75,111.46 L501.00,111.44 L501.25,111.40 L501.50,111.36 L501.75,111.32 L502.00,111.27 L502.25,111.21 L502.50,111.15 L502.75,111.08 L503.00,111.01 L503.25,110.94 L503.50,110.86 L503.75,110.78 L504.00,110.70 L504.25,110.62 L504.50,110.53 L504.75,110.44 L505.00,110.35 L505.25,110.27 L505.50,110.18 L505.75,110.09 L506.00,110.00 L506.25,109.91 L506.50,109.80 L506.75,109.69 L507.00,109.57 L507.25,109.44 L507.50,109.30 L507.75,109.16 L508.00,109.02 L508.25,108.86 L508.50,108.71 L508.75,108.56 L509.00,108.40 L509.25,108.25 L509.50,108.09 L509.75,107.94 L510.00,107.79 L510.25,107.64 L510.50,107.50 L510.75,107.36 L511.00,107.22 L511.25,107.07 L511.50,106.92 L511.75,106.77 L512.00,106.63 L512.25,106.48 L512.50,106.33 L512.75,106.18 L513.00,106.04 L513.25,105.89 L513.50,105.75 L513.75,105.61 L514.00,105.48 L514.25,105.35 L514.50,105.23 L514.75,105.11 L515.00,105.00 L515.25,104.89 L515.50,104.77 L515.75,104.66 L516.00,104.54 L516.25,104.42 L516.50,104.30 L516.75,104.18 L517.00,104.07 L517.25,103.95 L517.50,103.85 L517.75,103.75 L518.00,103.65 L518.25,103.57 L518.50,103.50 L518.75,103.43 L519.00,103.38 L519.25,103.34 L519.50,103.31 L519.75,103.30 L520.00,103.32 L520.25,103.38 L520.50,103.48 L520.75,103.62 L521.00,103.80 L521.25,104.01 L521.50,104.24 L521.75,104.50 L522.00,104.78 L522.25,105.07 L522.50,105.37 L522.75,105.69 L523.00,106.00 L523.25,106.35 L523.50,106.77 L523.75,107.26 L524.00,107.79 L524.25,108.38 L524.50,109.00 L524.75,109.66 L525.00,110.34 L525.25,111.04 L525.50,111.84 L525.75,112.75 L526.00,113.76 L526.25,114.83 L526.50,115.94 L526.75,117.07 L527.00,118.19 L527.25,119.27 L527.50,120.30 L527.75,121.25 L528.00,122.10 L528.25,122.82 L528.50,123.48 L528.75,124.08 L529.00,124.63 L529.25,125.14 L529.50,125.63 L529.75,126.10 L530.00,126.57 L530.25,127.03 L530.50,127.51 L530.75,128.01 L531.00,128.54 L531.25,129.12 L531.50,129.75 L531.75,130.44 L532.00,131.20 L532.25,132.15 L532.50,133.35 L532.75,134.70 L533.00,136.13 L533.25,137.55 L533.50,138.87 L533.75,140.02 L534.00,140.90 L534.25,141.59 L534.50,142.21 L534.75,142.78 L535.00,143.31 L535.25,143.79 L535.50,144.24 L535.75,144.66 L536.00,145.06 L536.25,145.44 L536.50,145.82 L536.75,146.20 L537.00,146.58 L537.25,146.98 L537.50,147.39 L537.75,147.84 L538.00,148.32 L538.25,148.83 L538.50,149.40 L538.75,150.05 L539.00,150.79 L539.25,151.61 L539.50,152.49 L539.75,153.39 L540.00,154.29 L540.25,155.18 L540.50,156.02 L540.75,156.80 L541.00,157.48 L541.25,158.06 L541.50,158.50 L541.75,158.86 L542.00,159.22 L542.25,159.56 L542.50,159.86 L542.75,160.12 L543.00,160.32 L543.25,160.45 L543.50,160.50 L543.75,160.45 L544.00,160.32 L544.25,160.12 L544.50,159.86 L544.75,159.56 L545.00,159.22 L545.25,158.86 L545.50,158.50 L545.75,158.06 L546.00,157.48 L546.25,156.80 L546.50,156.02 L546.75,155.18 L547.00,154.29 L547.25,153.39 L547.50,152.49 L547.75,151.61 L548.00,150.79 L548.25,150.05 L548.50,149.40 L548.75,148.83 L549.00,148.32 L549.25,147.84 L549.50,147.39 L549.75,146.98 L550.00,146.58 L550.25,146.20 L550.50,145.82 L550.75,145.44 L551.00,145.06 L551.25,144.66 L551.50,144.24 L551.75,143.79 L552.00,143.31 L552.25,142.78 L552.50,142.21 L552.75,141.59 L553.00,140.90 L553.25,140.02 L553.50,138.87 L553.75,137.55 L554.00,136.13 L554.25,134.70 L554.50,133.35 L554.75,132.15 L555.00,131.20 L555.25,130.44 L555.50,129.75 L555.75,129.12 L556.00,128.54 L556.25,128.01 L556.50,127.51 L556.75,127.03 L557.00,126.57 L557.25,126.10 L557.50,125.63 L557.75,125.14 L558.00,124.63 L558.25,124.08 L558.50,123.48 L558.75,122.82 L559.00,122.10 L559.25,121.25 L559.50,120.30 L559.75,119.27 L560.00,118.19 L560.25,117.07 L560.50,115.94 L560.75,114.83 L561.00,113.76 L561.25,112.75 L561.50,111.84 L561.75,111.04 L562.00,110.34 L562.25,109.66 L562.50,109.00 L562.75,108.38 L563.00,107.79 L563.25,107.26 L563.50,106.77 L563.75,106.35 L564.00,106.00 L564.25,105.69 L564.50,105.37 L564.75,105.07 L565.00,104.78 L565.25,104.50 L565.50,104.24 L565.75,104.01 L566.00,103.80 L566.25,103.62 L566.50,103.48 L566.75,103.38 L567.00,103.32 L567.25,103.30 L567.50,103.31 L567.75,103.34 L568.00,103.38 L568.25,103.43 L568.50,103.50 L568.75,103.57 L569.00,103.65 L569.25,103.75 L569.50,103.85 L569.75,103.95 L570.00,104.07 L570.25,104.18 L570.50,104.30 L570.75,104.42 L571.00,104.54 L571.25,104.66 L571.50,104.77 L571.75,104.89 L572.00,105.00 L572.25,105.11 L572.50,105.23 L572.75,105.35 L573.00,105.48 L573.25,105.61 L573.50,105.75 L573.75,105.89 L574.00,106.04 L574.25,106.18 L574.50,106.33 L574.75,106.48 L575.00,106.63 L575.25,106.77 L575.50,106.92 L575.75,107.07 L576.00,107.22 L576.25,107.36 L576.50,107.50 L576.75,107.64 L577.00,107.79 L577.25,107.94 L577.50,108.09 L577.75,108.25 L578.00,108.40 L578.25,108.56 L578.50,108.71 L578.75,108.86 L579.00,109.02 L579.25,109.16 L579.50,109.30 L579.75,109.44 L580.00,109.57 L580.25,109.69 L580.50,109.80 L580.75,109.91 L581.00,110.00 L581.25,110.09 L581.50,110.18 L581.75,110.27 L582.00,110.35 L582.25,110.44 L582.50,110.53 L582.75,110.62 L583.00,110.70 L583.25,110.78 L583.50,110.86 L583.75,110.94 L584.00,111.01 L584.25,111.08 L584.50,111.15 L584.75,111.21 L585.00,111.27 L585.25,111.32 L585.50,111.36 L585.75,111.40 L586.00,111.44 L586.25,111.46 L586.50,111.48 L586.75,111.50 L587.00,111.50 L587.25,111.50 L587.50,111.49 L587.75,111.48 L588.00,111.46 L588.25,111.44 L588.50,111.42 L588.75,111.39 L589.00,111.35 L589.25,111.32 L589.50,111.28 L589.75,111.23 L590.00,111.19 L590.25,111.14 L590.50,111.08 L590.75,111.03 L591.00,110.97 L591.25,110.91 L591.50,110.84 L591.75,110.78 L592.00,110.71 L592.25,110.64 L592.50,110.57 L592.75,110.50 L593.00,110.42 L593.25,110.35 L593.50,110.27 L593.75,110.19 L594.00,110.12 L594.25,110.04 L594.50,109.96 L594.75,109.88 L595.00,109.80 L595.25,109.72 L595.50,109.62 L595.75,109.52 L596.00,109.41 L596.25,109.29 L596.50,109.17 L596.75,109.04 L597.00,108.90 L597.25,108.76 L597.50,108.61 L597.75,108.46 L598.00,108.30 L598.25,108.14 L598.50,107.98 L598.75,107.81 L599.00,107.64 L599.25,107.47 L599.50,107.29 L599.75,107.12 L600.00,106.94 L600.25,106.77 L600.50,106.59 L600.75,106.42 L601.00,106.24 L601.25,106.07 L601.50,105.90 L601.75,105.73 L602.00,105.57 L602.25,105.40 L602.50,105.23 L602.75,105.06 L603.00,104.89 L603.25,104.72 L603.50,104.55 L603.75,104.38 L604.00,104.21 L604.25,104.03 L604.50,103.86 L604.75,103.68 L605.00,103.50 L605.25,103.32 L605.50,103.15 L605.75,102.97 L606.00,102.78 L606.25,102.60 L606.50,102.42 L606.75,102.24 L607.00,102.05 L607.25,101.87 L607.50,101.68 L607.75,101.50 L608.00,101.31 L608.25,101.12 L608.50,100.93 L608.75,100.74 L609.00,100.55 L609.25,100.36 L609.50,100.17 L609.75,99.97 L610.00,99.78 L610.25,99.58 L610.50,99.39 L610.75,99.19 L611.00,98.99 L611.25,98.80 L611.50,98.60 L611.75,98.40 L612.00,98.20 L612.25,98.00 L612.50,97.80 L612.75,97.59 L613.00,97.39 L613.25,97.19 L613.50,96.98 L613.75,96.77 L614.00,96.57 L614.25,96.36 L614.50,96.15 L614.75,95.95 L615.00,95.74 L615.25,95.53 L615.50,95.32 L615.75,95.10 L616.00,94.89 L616.25,94.68 L616.50,94.46 L616.75,94.24 L617.00,94.03 L617.25,93.81 L617.50,93.59 L617.75,93.37 L618.00,93.14 L618.25,92.92 L618.50,92.69 L618.75,92.47 L619.00,92.24 L619.25,92.01 L619.50,91.78 L619.75,91.55 L620.00,91.32 L620.25,91.09 L620.50,90.86 L620.75,90.63 L621.00,90.39 L621.25,90.16 L621.50,89.92 L621.75,89.68 L622.00,89.44 L622.25,89.21 L622.50,88.97 L622.75,88.73 L623.00,88.48 L623.25,88.24 L623.50,88.00 L623.75,87.76 L624.00,87.51 L624.25,87.27 L624.50,87.02 L624.75,86.78 L625.00,86.53 L625.25,86.28 L625.50,86.04 L625.75,85.79 L626.00,85.54 L626.25,85.29 L626.50,85.04 L626.75,84.79 L627.00,84.54 L627.25,84.29 L627.50,84.04 L627.75,83.79 L628.00,83.54 L628.25,83.28 L628.50,83.03 L628.75,82.78 L629.00,82.52 L629.25,82.27 L629.50,82.02 L629.75,81.76 L630.00,81.51 L630.25,81.25 L630.50,81.00 L630.75,80.75 L631.00,80.49 L631.25,80.23 L631.50,79.98 L631.75,79.72 L632.00,79.47 L632.25,79.21 L632.50,78.95 L632.75,78.70 L633.00,78.44 L633.25,78.18 L633.50,77.93 L633.75,77.67 L634.00,77.41 L634.25,77.15 L634.50,76.89 L634.75,76.63 L635.00,76.37 L635.25,76.11 L635.50,75.85 L635.75,75.59 L636.00,75.33 L636.25,75.07 L636.50,74.81 L636.75,74.55 L637.00,74.29 L637.25,74.03 L637.50,73.77 L637.75,73.50 L638.00,73.24 L638.25,72.98 L638.50,72.72 L638.75,72.45 L639.00,72.19 L639.25,71.92 L639.50,71.66 L639.75,71.40 L640.00,71.13 L640.25,70.86 L640.50,70.60 L640.75,70.33 L641.00,70.07 L641.25,69.80 L641.50,69.53 L641.75,69.27 L642.00,69.00 L642.25,68.73 L642.50,68.46 L642.75,68.20 L643.00,67.93 L643.25,67.66 L643.50,67.39 L643.75,67.12 L644.00,66.85 L644.25,66.58 L644.50,66.31 L644.75,66.04 L645.00,65.77 L645.25,65.50 L645.50,65.23 L645.75,64.95 L646.00,64.68 L646.25,64.41 L646.50,64.14 L646.75,63.86 L647.00,63.59 L647.25,63.32 L647.50,63.04 L647.75,62.77 L648.00,62.49 L648.25,62.22 L648.50,61.94 L648.75,61.67 L649.00,61.39 L649.25,61.11 L649.50,60.84 L649.75,60.56 L650.00,60.28 L650.25,60.00 L650.50,59.73 L650.75,59.45 L651.00,59.17 L651.25,58.89 L651.50,58.61 L651.75,58.33 L652.00,58.05 L652.25,57.77 L652.50,57.49 L652.75,57.21 L653.00,56.92 L653.25,56.64 L653.50,56.36 L653.75,56.08 L654.00,55.79 L654.25,55.51 L654.50,55.23 L654.75,54.94 L655.00,54.66 L655.25,54.37 L655.50,54.09 L655.75,53.80 L656.00,53.52 L656.25,53.23 L656.50,52.95 L656.75,52.66 L657.00,52.37 L657.25,52.08 L657.50,51.80 L657.75,51.51 L658.00,51.22 L658.25,50.93 L658.50,50.64 L658.75,50.35 L659.00,50.06 L659.25,49.77 L659.50,49.48 L659.75,49.19 L660.00,48.89 L660.25,48.60 L660.50,48.31 L660.75,48.02 L661.00,47.72 L661.25,47.43 L661.50,47.14 L661.75,46.84 L662.00,46.55 L662.25,46.25 L662.50,45.96 L662.75,45.66 L663.00,45.36 L663.25,45.07 L663.50,44.77 L663.75,44.47 L664.00,44.17 L664.25,43.88 L664.50,43.58 L664.75,43.28 L665.00,42.98 L665.25,42.68 L665.50,42.38 L665.75,42.08 L666.00,41.78 L666.25,41.47 L666.50,41.17 L666.75,40.87 L667.00,40.57 L667.25,40.26 L667.50,39.96 L667.75,39.66 L668.00,39.35 L668.25,39.05 L668.50,38.74 L668.75,38.44 L669.00,38.13 L669.25,37.82 L669.50,37.52 L669.75,37.21 L670.00,36.90 L670.25,36.59 L670.50,36.28 L670.75,35.98 L671.00,35.67 L671.25,35.36 L671.50,35.05 L671.75,34.73 L672.00,34.42 L672.25,34.11 L672.50,33.80" stroke="#00ff00" stroke-dasharray="10.3 9.74"/></g>
<g fill="none" stroke-width="2.6">
<path d="M198.0,46.5 H236.1" stroke="#000"/>
<path d="M198.0,78.0 H236.1" stroke="#ff0000" stroke-dasharray="10.3 2.2 5.4 2.1"/>
<path d="M198.0,109.5 H236.1" stroke="#0000ff" stroke-dasharray="2.6 2.46"/>
<path d="M198.0,141.1 H236.1" stroke="#00ff00" stroke-dasharray="10.3 9.74"/>
</g>
<text x="240" y="49.9" font-size="18" fill="#000">A<tspan font-size="14.4" dy="9.2">0</tspan><tspan dy="-9.2"> = 0.0</tspan></text>
<text x="240" y="81.5" font-size="18" fill="#000">A<tspan font-size="14.4" dy="9.2">0</tspan><tspan dy="-9.2"> = 0.1</tspan></text>
<text x="240" y="113.1" font-size="18" fill="#000">A<tspan font-size="14.4" dy="9.2">0</tspan><tspan dy="-9.2"> = 0.2</tspan></text>
<text x="240" y="144.9" font-size="18" fill="#000">A<tspan font-size="14.4" dy="9.2">0</tspan><tspan dy="-9.2"> = 0.3</tspan></text>
<text x="65.3" y="256.7" font-size="20.4" fill="#262626" text-anchor="end">0</text>
<text x="64.6" y="182.0" font-size="20.4" fill="#262626" text-anchor="end">0.01</text>
<text x="64.6" y="107.6" font-size="20.4" fill="#262626" text-anchor="end">0.02</text>
<text x="406.8" y="256.7" font-size="20.4" fill="#262626" text-anchor="end">0</text>
<text x="406.0" y="107.6" font-size="20.4" fill="#262626" text-anchor="end">0.01</text>
<text x="73.15" y="276.7" font-size="20.4" fill="#262626" text-anchor="middle">-0.5</text>
<text x="202.325" y="276.7" font-size="20.4" fill="#262626" text-anchor="middle">0</text>
<text x="331.5" y="276.7" font-size="20.4" fill="#262626" text-anchor="middle">0.5</text>
<text x="414.5" y="276.7" font-size="20.4" fill="#262626" text-anchor="middle">-0.5</text>
<text x="543.5" y="276.7" font-size="20.4" fill="#262626" text-anchor="middle">0</text>
<text x="672.5" y="276.7" font-size="20.4" fill="#262626" text-anchor="middle">0.5</text>
<text x="201.725" y="15.5" font-size="21.8" fill="#000" text-anchor="middle">(a)</text>
<text x="543.0" y="15.5" font-size="21.8" fill="#000" text-anchor="middle">(b)</text>
<text transform="translate(17.0,138.4) rotate(-90)" font-size="21.9" fill="#262626" text-anchor="middle">Local DOS</text>
<g transform="translate(0.00,0)" fill="#262626"><path d="M206.0,296.6 L202.3,296.85 C199.7,297.2 197.7,299.6 197.7,302.2 C197.7,305.4 199.4,307.6 202.3,307.6 C203.8,307.6 204.8,306.4 205.2,304.7 L204.4,304.9 C204.1,306.0 203.4,306.8 202.5,306.8 C200.8,306.8 199.8,305.0 199.8,302.3 C199.8,299.8 200.9,298.1 202.6,297.9 L206.0,297.65 Z"/><path d="M200.2,300.85 H204.9 V301.8 H200.2 Z"/></g>
<g transform="translate(341.20,0)" fill="#262626"><path d="M206.0,296.6 L202.3,296.85 C199.7,297.2 197.7,299.6 197.7,302.2 C197.7,305.4 199.4,307.6 202.3,307.6 C203.8,307.6 204.8,306.4 205.2,304.7 L204.4,304.9 C204.1,306.0 203.4,306.8 202.5,306.8 C200.8,306.8 199.8,305.0 199.8,302.3 C199.8,299.8 200.9,298.1 202.6,297.9 L206.0,297.65 Z"/><path d="M200.2,300.85 H204.9 V301.8 H200.2 Z"/></g>
<text x="90.30" y="77.30" font-size="16" fill="#000">U</text><text x="102.95" y="84.50" font-size="12.8" fill="#000">0</text><text x="116.20" y="77.30" font-size="16" fill="#000">=</text><text x="130.60" y="77.30" font-size="16" fill="#000">0.0</text><text x="90.30" y="105.30" font-size="16" fill="#000">U</text><text x="103.25" y="112.50" font-size="12.8" fill="#000">M</text><text x="119.40" y="105.30" font-size="16" fill="#000">=</text><text x="134.65" y="105.30" font-size="16" fill="#000">10</text>
<text x="436.60" y="200.40" font-size="16" fill="#000">U</text><text x="449.25" y="207.60" font-size="12.8" fill="#000">0</text><text x="462.50" y="200.40" font-size="16" fill="#000">=</text><text x="476.90" y="200.40" font-size="16" fill="#000">0.0</text><text x="436.60" y="228.40" font-size="16" fill="#000">U</text><text x="449.55" y="235.60" font-size="12.8" fill="#000">M</text><text x="465.70" y="228.40" font-size="16" fill="#000">=</text><text x="480.95" y="228.40" font-size="16" fill="#000">10</text>
</svg>
</body></html>
